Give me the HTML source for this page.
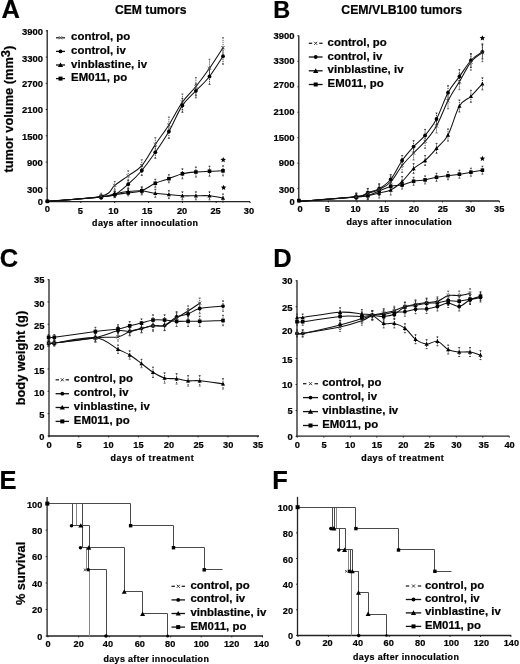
<!DOCTYPE html>
<html><head><meta charset="utf-8"><style>
html,body{margin:0;padding:0;background:#fff;width:520px;height:664px;overflow:hidden}
text{font-family:"Liberation Sans", sans-serif;stroke:#000;stroke-width:0.22px;paint-order:stroke}
</style></head><body>
<svg width="520" height="664" viewBox="0 0 520 664" style="display:block;filter:blur(0.35px)">
<rect width="520" height="664" fill="#fff"/>
<g font-family='"Liberation Sans", sans-serif'>
<text x="1.4" y="18.0" font-size="25.5" font-weight="bold" fill="#000" >A</text>
<text x="115.0" y="13.5" font-size="12.2" textLength="71.5" lengthAdjust="spacingAndGlyphs" font-weight="bold" fill="#000" >CEM tumors</text>
<line x1="47.2" y1="30.0" x2="47.2" y2="202.2" stroke="#222" stroke-width="1.3" />
<line x1="46.6" y1="201.6" x2="250.0" y2="201.6" stroke="#222" stroke-width="1.3" />
<text x="42.9" y="34.6" font-size="9.9" text-anchor="end" textLength="21.0" lengthAdjust="spacingAndGlyphs" font-weight="bold" fill="#000" >3900</text>
<line x1="45.8" y1="30.9" x2="47.2" y2="30.9" stroke="#222" stroke-width="1.0" />
<text x="42.9" y="61.5" font-size="9.9" text-anchor="end" textLength="21.0" lengthAdjust="spacingAndGlyphs" font-weight="bold" fill="#000" >3300</text>
<line x1="45.8" y1="57.1" x2="47.2" y2="57.1" stroke="#222" stroke-width="1.0" />
<text x="42.9" y="86.6" font-size="9.9" text-anchor="end" textLength="21.0" lengthAdjust="spacingAndGlyphs" font-weight="bold" fill="#000" >2700</text>
<line x1="45.8" y1="83.3" x2="47.2" y2="83.3" stroke="#222" stroke-width="1.0" />
<text x="42.9" y="112.5" font-size="9.9" text-anchor="end" textLength="21.0" lengthAdjust="spacingAndGlyphs" font-weight="bold" fill="#000" >2100</text>
<line x1="45.8" y1="109.5" x2="47.2" y2="109.5" stroke="#222" stroke-width="1.0" />
<text x="42.9" y="140.2" font-size="9.9" text-anchor="end" textLength="21.0" lengthAdjust="spacingAndGlyphs" font-weight="bold" fill="#000" >1500</text>
<line x1="45.8" y1="135.8" x2="47.2" y2="135.8" stroke="#222" stroke-width="1.0" />
<text x="42.9" y="165.7" font-size="9.9" text-anchor="end" textLength="15.8" lengthAdjust="spacingAndGlyphs" font-weight="bold" fill="#000" >900</text>
<line x1="45.8" y1="162.0" x2="47.2" y2="162.0" stroke="#222" stroke-width="1.0" />
<text x="42.9" y="192.7" font-size="9.9" text-anchor="end" textLength="15.8" lengthAdjust="spacingAndGlyphs" font-weight="bold" fill="#000" >300</text>
<line x1="45.8" y1="188.2" x2="47.2" y2="188.2" stroke="#222" stroke-width="1.0" />
<text x="42.9" y="204.5" font-size="9.9" text-anchor="end" textLength="5.2" lengthAdjust="spacingAndGlyphs" font-weight="bold" fill="#000" >0</text>
<line x1="45.8" y1="201.3" x2="47.2" y2="201.3" stroke="#222" stroke-width="1.0" />
<text x="47.4" y="212.1" font-size="9.9" text-anchor="middle" textLength="5.2" lengthAdjust="spacingAndGlyphs" font-weight="bold" fill="#000" >0</text>
<line x1="47.0" y1="201.6" x2="47.0" y2="203.0" stroke="#222" stroke-width="1.0" />
<text x="80.4" y="214.2" font-size="9.9" text-anchor="middle" textLength="5.2" lengthAdjust="spacingAndGlyphs" font-weight="bold" fill="#000" >5</text>
<line x1="80.8" y1="201.6" x2="80.8" y2="203.0" stroke="#222" stroke-width="1.0" />
<text x="113.5" y="214.2" font-size="9.9" text-anchor="middle" textLength="10.3" lengthAdjust="spacingAndGlyphs" font-weight="bold" fill="#000" >10</text>
<line x1="114.7" y1="201.6" x2="114.7" y2="203.0" stroke="#222" stroke-width="1.0" />
<text x="147.2" y="214.2" font-size="9.9" text-anchor="middle" textLength="10.3" lengthAdjust="spacingAndGlyphs" font-weight="bold" fill="#000" >15</text>
<line x1="148.6" y1="201.6" x2="148.6" y2="203.0" stroke="#222" stroke-width="1.0" />
<text x="182.1" y="214.2" font-size="9.9" text-anchor="middle" textLength="10.3" lengthAdjust="spacingAndGlyphs" font-weight="bold" fill="#000" >20</text>
<line x1="182.4" y1="201.6" x2="182.4" y2="203.0" stroke="#222" stroke-width="1.0" />
<text x="215.6" y="214.2" font-size="9.9" text-anchor="middle" textLength="10.3" lengthAdjust="spacingAndGlyphs" font-weight="bold" fill="#000" >25</text>
<line x1="216.2" y1="201.6" x2="216.2" y2="203.0" stroke="#222" stroke-width="1.0" />
<text x="249.0" y="214.2" font-size="9.9" text-anchor="middle" textLength="10.3" lengthAdjust="spacingAndGlyphs" font-weight="bold" fill="#000" >30</text>
<line x1="250.1" y1="201.6" x2="250.1" y2="203.0" stroke="#222" stroke-width="1.0" />
<text x="92.1" y="225.6" font-size="8.9" textLength="105.8" lengthAdjust="spacing" font-weight="bold" fill="#000" >days after innoculation</text>
<text transform="translate(13.1,172.6) rotate(-90)" font-size="12" font-weight="bold" textLength="126.8" lengthAdjust="spacingAndGlyphs">tumor volume (mm<tspan dy="-3.4">3</tspan><tspan dy="3.4">)</tspan></text>
<line x1="56.0" y1="37.8" x2="59.4" y2="37.8" stroke="#222" stroke-width="1.3" />
<line x1="61.6" y1="37.8" x2="65.0" y2="37.8" stroke="#222" stroke-width="1.3" />
<path d="M59.0,36.3L62.0,39.3M62.0,36.3L59.0,39.3" stroke="#333" stroke-width="1.0"/>
<text x="71.1" y="40.3" font-size="11.4" textLength="59.2" lengthAdjust="spacing" font-weight="bold" fill="#000" >control, po</text>
<line x1="56.0" y1="51.4" x2="65.0" y2="51.4" stroke="#111" stroke-width="1.3" />
<circle cx="60.5" cy="51.4" r="1.9" fill="#000"/>
<text x="71.1" y="53.9" font-size="11.4" textLength="54.8" lengthAdjust="spacing" font-weight="bold" fill="#000" >control, iv</text>
<line x1="56.0" y1="65.0" x2="65.0" y2="65.0" stroke="#111" stroke-width="1.3" />
<polygon points="60.5,62.4 63.1,67.1 57.9,67.1" fill="#000"/>
<text x="71.1" y="67.5" font-size="11.4" textLength="76.0" lengthAdjust="spacing" font-weight="bold" fill="#000" >vinblastine, iv</text>
<line x1="56.0" y1="78.6" x2="65.0" y2="78.6" stroke="#111" stroke-width="1.3" />
<rect x="58.5" y="76.6" width="4.0" height="4.0" fill="#000"/>
<text x="71.1" y="81.1" font-size="11.4" textLength="56.0" lengthAdjust="spacing" font-weight="bold" fill="#000" >EM011, po</text>
<line x1="101.2" y1="193.2" x2="101.2" y2="199.2" stroke="#555" stroke-width="1.0"  stroke-dasharray="1.2,0.9"/>
<line x1="100.2" y1="193.2" x2="102.2" y2="193.2" stroke="#555" stroke-width="0.8" />
<line x1="100.2" y1="199.2" x2="102.2" y2="199.2" stroke="#555" stroke-width="0.8" />
<line x1="114.7" y1="181.4" x2="114.7" y2="189.4" stroke="#555" stroke-width="1.0"  stroke-dasharray="1.2,0.9"/>
<line x1="113.7" y1="181.4" x2="115.7" y2="181.4" stroke="#555" stroke-width="0.8" />
<line x1="113.7" y1="189.4" x2="115.7" y2="189.4" stroke="#555" stroke-width="0.8" />
<line x1="128.2" y1="170.8" x2="128.2" y2="180.8" stroke="#555" stroke-width="1.0"  stroke-dasharray="1.2,0.9"/>
<line x1="127.2" y1="170.8" x2="129.2" y2="170.8" stroke="#555" stroke-width="0.8" />
<line x1="127.2" y1="180.8" x2="129.2" y2="180.8" stroke="#555" stroke-width="0.8" />
<line x1="141.8" y1="159.7" x2="141.8" y2="171.7" stroke="#555" stroke-width="1.0"  stroke-dasharray="1.2,0.9"/>
<line x1="140.8" y1="159.7" x2="142.8" y2="159.7" stroke="#555" stroke-width="0.8" />
<line x1="140.8" y1="171.7" x2="142.8" y2="171.7" stroke="#555" stroke-width="0.8" />
<line x1="155.3" y1="137.6" x2="155.3" y2="151.6" stroke="#555" stroke-width="1.0"  stroke-dasharray="1.2,0.9"/>
<line x1="154.3" y1="137.6" x2="156.3" y2="137.6" stroke="#555" stroke-width="0.8" />
<line x1="154.3" y1="151.6" x2="156.3" y2="151.6" stroke="#555" stroke-width="0.8" />
<line x1="168.9" y1="117.0" x2="168.9" y2="133.0" stroke="#555" stroke-width="1.0"  stroke-dasharray="1.2,0.9"/>
<line x1="167.9" y1="117.0" x2="169.9" y2="117.0" stroke="#555" stroke-width="0.8" />
<line x1="167.9" y1="133.0" x2="169.9" y2="133.0" stroke="#555" stroke-width="0.8" />
<line x1="182.4" y1="94.0" x2="182.4" y2="110.0" stroke="#555" stroke-width="1.0"  stroke-dasharray="1.2,0.9"/>
<line x1="181.4" y1="94.0" x2="183.4" y2="94.0" stroke="#555" stroke-width="0.8" />
<line x1="181.4" y1="110.0" x2="183.4" y2="110.0" stroke="#555" stroke-width="0.8" />
<line x1="195.9" y1="77.5" x2="195.9" y2="95.5" stroke="#555" stroke-width="1.0"  stroke-dasharray="1.2,0.9"/>
<line x1="194.9" y1="77.5" x2="196.9" y2="77.5" stroke="#555" stroke-width="0.8" />
<line x1="194.9" y1="95.5" x2="196.9" y2="95.5" stroke="#555" stroke-width="0.8" />
<line x1="209.5" y1="59.3" x2="209.5" y2="77.3" stroke="#555" stroke-width="1.0"  stroke-dasharray="1.2,0.9"/>
<line x1="208.5" y1="59.3" x2="210.5" y2="59.3" stroke="#555" stroke-width="0.8" />
<line x1="208.5" y1="77.3" x2="210.5" y2="77.3" stroke="#555" stroke-width="0.8" />
<line x1="223.0" y1="37.7" x2="223.0" y2="57.7" stroke="#555" stroke-width="1.0"  stroke-dasharray="1.2,0.9"/>
<line x1="222.0" y1="37.7" x2="224.0" y2="37.7" stroke="#555" stroke-width="0.8" />
<line x1="222.0" y1="57.7" x2="224.0" y2="57.7" stroke="#555" stroke-width="0.8" />
<line x1="101.2" y1="194.9" x2="101.2" y2="198.9" stroke="#333" stroke-width="1.0"  stroke-dasharray="1.2,0.9"/>
<line x1="100.2" y1="194.9" x2="102.2" y2="194.9" stroke="#333" stroke-width="0.8" />
<line x1="100.2" y1="198.9" x2="102.2" y2="198.9" stroke="#333" stroke-width="0.8" />
<line x1="114.7" y1="191.6" x2="114.7" y2="197.6" stroke="#333" stroke-width="1.0"  stroke-dasharray="1.2,0.9"/>
<line x1="113.7" y1="191.6" x2="115.7" y2="191.6" stroke="#333" stroke-width="0.8" />
<line x1="113.7" y1="197.6" x2="115.7" y2="197.6" stroke="#333" stroke-width="0.8" />
<line x1="128.2" y1="180.2" x2="128.2" y2="188.2" stroke="#333" stroke-width="1.0"  stroke-dasharray="1.2,0.9"/>
<line x1="127.2" y1="180.2" x2="129.2" y2="180.2" stroke="#333" stroke-width="0.8" />
<line x1="127.2" y1="188.2" x2="129.2" y2="188.2" stroke="#333" stroke-width="0.8" />
<line x1="141.8" y1="165.5" x2="141.8" y2="175.5" stroke="#333" stroke-width="1.0"  stroke-dasharray="1.2,0.9"/>
<line x1="140.8" y1="165.5" x2="142.8" y2="165.5" stroke="#333" stroke-width="0.8" />
<line x1="140.8" y1="175.5" x2="142.8" y2="175.5" stroke="#333" stroke-width="0.8" />
<line x1="155.3" y1="146.3" x2="155.3" y2="158.3" stroke="#333" stroke-width="1.0"  stroke-dasharray="1.2,0.9"/>
<line x1="154.3" y1="146.3" x2="156.3" y2="146.3" stroke="#333" stroke-width="0.8" />
<line x1="154.3" y1="158.3" x2="156.3" y2="158.3" stroke="#333" stroke-width="0.8" />
<line x1="168.9" y1="124.4" x2="168.9" y2="138.4" stroke="#333" stroke-width="1.0"  stroke-dasharray="1.2,0.9"/>
<line x1="167.9" y1="124.4" x2="169.9" y2="124.4" stroke="#333" stroke-width="0.8" />
<line x1="167.9" y1="138.4" x2="169.9" y2="138.4" stroke="#333" stroke-width="0.8" />
<line x1="182.4" y1="98.4" x2="182.4" y2="112.4" stroke="#333" stroke-width="1.0"  stroke-dasharray="1.2,0.9"/>
<line x1="181.4" y1="98.4" x2="183.4" y2="98.4" stroke="#333" stroke-width="0.8" />
<line x1="181.4" y1="112.4" x2="183.4" y2="112.4" stroke="#333" stroke-width="0.8" />
<line x1="195.9" y1="83.8" x2="195.9" y2="97.8" stroke="#333" stroke-width="1.0"  stroke-dasharray="1.2,0.9"/>
<line x1="194.9" y1="83.8" x2="196.9" y2="83.8" stroke="#333" stroke-width="0.8" />
<line x1="194.9" y1="97.8" x2="196.9" y2="97.8" stroke="#333" stroke-width="0.8" />
<line x1="209.5" y1="68.5" x2="209.5" y2="84.5" stroke="#333" stroke-width="1.0"  stroke-dasharray="1.2,0.9"/>
<line x1="208.5" y1="68.5" x2="210.5" y2="68.5" stroke="#333" stroke-width="0.8" />
<line x1="208.5" y1="84.5" x2="210.5" y2="84.5" stroke="#333" stroke-width="0.8" />
<line x1="223.0" y1="48.2" x2="223.0" y2="64.2" stroke="#333" stroke-width="1.0"  stroke-dasharray="1.2,0.9"/>
<line x1="222.0" y1="48.2" x2="224.0" y2="48.2" stroke="#333" stroke-width="0.8" />
<line x1="222.0" y1="64.2" x2="224.0" y2="64.2" stroke="#333" stroke-width="0.8" />
<line x1="101.2" y1="194.9" x2="101.2" y2="198.9" stroke="#333" stroke-width="1.0"  stroke-dasharray="1.2,0.9"/>
<line x1="100.2" y1="194.9" x2="102.2" y2="194.9" stroke="#333" stroke-width="0.8" />
<line x1="100.2" y1="198.9" x2="102.2" y2="198.9" stroke="#333" stroke-width="0.8" />
<line x1="114.7" y1="191.6" x2="114.7" y2="197.6" stroke="#333" stroke-width="1.0"  stroke-dasharray="1.2,0.9"/>
<line x1="113.7" y1="191.6" x2="115.7" y2="191.6" stroke="#333" stroke-width="0.8" />
<line x1="113.7" y1="197.6" x2="115.7" y2="197.6" stroke="#333" stroke-width="0.8" />
<line x1="128.2" y1="189.8" x2="128.2" y2="195.8" stroke="#333" stroke-width="1.0"  stroke-dasharray="1.2,0.9"/>
<line x1="127.2" y1="189.8" x2="129.2" y2="189.8" stroke="#333" stroke-width="0.8" />
<line x1="127.2" y1="195.8" x2="129.2" y2="195.8" stroke="#333" stroke-width="0.8" />
<line x1="141.8" y1="186.8" x2="141.8" y2="194.8" stroke="#333" stroke-width="1.0"  stroke-dasharray="1.2,0.9"/>
<line x1="140.8" y1="186.8" x2="142.8" y2="186.8" stroke="#333" stroke-width="0.8" />
<line x1="140.8" y1="194.8" x2="142.8" y2="194.8" stroke="#333" stroke-width="0.8" />
<line x1="155.3" y1="179.3" x2="155.3" y2="187.3" stroke="#333" stroke-width="1.0"  stroke-dasharray="1.2,0.9"/>
<line x1="154.3" y1="179.3" x2="156.3" y2="179.3" stroke="#333" stroke-width="0.8" />
<line x1="154.3" y1="187.3" x2="156.3" y2="187.3" stroke="#333" stroke-width="0.8" />
<line x1="168.9" y1="174.7" x2="168.9" y2="182.7" stroke="#333" stroke-width="1.0"  stroke-dasharray="1.2,0.9"/>
<line x1="167.9" y1="174.7" x2="169.9" y2="174.7" stroke="#333" stroke-width="0.8" />
<line x1="167.9" y1="182.7" x2="169.9" y2="182.7" stroke="#333" stroke-width="0.8" />
<line x1="182.4" y1="168.8" x2="182.4" y2="178.8" stroke="#333" stroke-width="1.0"  stroke-dasharray="1.2,0.9"/>
<line x1="181.4" y1="168.8" x2="183.4" y2="168.8" stroke="#333" stroke-width="0.8" />
<line x1="181.4" y1="178.8" x2="183.4" y2="178.8" stroke="#333" stroke-width="0.8" />
<line x1="195.9" y1="167.0" x2="195.9" y2="177.0" stroke="#333" stroke-width="1.0"  stroke-dasharray="1.2,0.9"/>
<line x1="194.9" y1="167.0" x2="196.9" y2="167.0" stroke="#333" stroke-width="0.8" />
<line x1="194.9" y1="177.0" x2="196.9" y2="177.0" stroke="#333" stroke-width="0.8" />
<line x1="209.5" y1="166.2" x2="209.5" y2="176.2" stroke="#333" stroke-width="1.0"  stroke-dasharray="1.2,0.9"/>
<line x1="208.5" y1="166.2" x2="210.5" y2="166.2" stroke="#333" stroke-width="0.8" />
<line x1="208.5" y1="176.2" x2="210.5" y2="176.2" stroke="#333" stroke-width="0.8" />
<line x1="223.0" y1="165.8" x2="223.0" y2="175.8" stroke="#333" stroke-width="1.0"  stroke-dasharray="1.2,0.9"/>
<line x1="222.0" y1="165.8" x2="224.0" y2="165.8" stroke="#333" stroke-width="0.8" />
<line x1="222.0" y1="175.8" x2="224.0" y2="175.8" stroke="#333" stroke-width="0.8" />
<line x1="101.2" y1="194.9" x2="101.2" y2="198.9" stroke="#333" stroke-width="1.0"  stroke-dasharray="1.2,0.9"/>
<line x1="100.2" y1="194.9" x2="102.2" y2="194.9" stroke="#333" stroke-width="0.8" />
<line x1="100.2" y1="198.9" x2="102.2" y2="198.9" stroke="#333" stroke-width="0.8" />
<line x1="114.7" y1="190.8" x2="114.7" y2="196.8" stroke="#333" stroke-width="1.0"  stroke-dasharray="1.2,0.9"/>
<line x1="113.7" y1="190.8" x2="115.7" y2="190.8" stroke="#333" stroke-width="0.8" />
<line x1="113.7" y1="196.8" x2="115.7" y2="196.8" stroke="#333" stroke-width="0.8" />
<line x1="128.2" y1="188.5" x2="128.2" y2="194.5" stroke="#333" stroke-width="1.0"  stroke-dasharray="1.2,0.9"/>
<line x1="127.2" y1="188.5" x2="129.2" y2="188.5" stroke="#333" stroke-width="0.8" />
<line x1="127.2" y1="194.5" x2="129.2" y2="194.5" stroke="#333" stroke-width="0.8" />
<line x1="141.8" y1="187.8" x2="141.8" y2="193.8" stroke="#333" stroke-width="1.0"  stroke-dasharray="1.2,0.9"/>
<line x1="140.8" y1="187.8" x2="142.8" y2="187.8" stroke="#333" stroke-width="0.8" />
<line x1="140.8" y1="193.8" x2="142.8" y2="193.8" stroke="#333" stroke-width="0.8" />
<line x1="155.3" y1="189.3" x2="155.3" y2="197.3" stroke="#333" stroke-width="1.0"  stroke-dasharray="1.2,0.9"/>
<line x1="154.3" y1="189.3" x2="156.3" y2="189.3" stroke="#333" stroke-width="0.8" />
<line x1="154.3" y1="197.3" x2="156.3" y2="197.3" stroke="#333" stroke-width="0.8" />
<line x1="168.9" y1="190.6" x2="168.9" y2="198.6" stroke="#333" stroke-width="1.0"  stroke-dasharray="1.2,0.9"/>
<line x1="167.9" y1="190.6" x2="169.9" y2="190.6" stroke="#333" stroke-width="0.8" />
<line x1="167.9" y1="198.6" x2="169.9" y2="198.6" stroke="#333" stroke-width="0.8" />
<line x1="182.4" y1="191.8" x2="182.4" y2="199.8" stroke="#333" stroke-width="1.0"  stroke-dasharray="1.2,0.9"/>
<line x1="181.4" y1="191.8" x2="183.4" y2="191.8" stroke="#333" stroke-width="0.8" />
<line x1="181.4" y1="199.8" x2="183.4" y2="199.8" stroke="#333" stroke-width="0.8" />
<line x1="195.9" y1="191.8" x2="195.9" y2="199.8" stroke="#333" stroke-width="1.0"  stroke-dasharray="1.2,0.9"/>
<line x1="194.9" y1="191.8" x2="196.9" y2="191.8" stroke="#333" stroke-width="0.8" />
<line x1="194.9" y1="199.8" x2="196.9" y2="199.8" stroke="#333" stroke-width="0.8" />
<line x1="209.5" y1="191.8" x2="209.5" y2="199.8" stroke="#333" stroke-width="1.0"  stroke-dasharray="1.2,0.9"/>
<line x1="208.5" y1="191.8" x2="210.5" y2="191.8" stroke="#333" stroke-width="0.8" />
<line x1="208.5" y1="199.8" x2="210.5" y2="199.8" stroke="#333" stroke-width="0.8" />
<line x1="223.0" y1="194.0" x2="223.0" y2="202.0" stroke="#333" stroke-width="1.0"  stroke-dasharray="1.2,0.9"/>
<line x1="222.0" y1="194.0" x2="224.0" y2="194.0" stroke="#333" stroke-width="0.8" />
<line x1="222.0" y1="202.0" x2="224.0" y2="202.0" stroke="#333" stroke-width="0.8" />
<path d="M47.0,201.3C56.0,200.5 89.9,198.8 101.2,196.2C112.4,193.5 110.2,188.8 114.7,185.4C119.2,182.0 123.7,179.1 128.2,175.8C132.8,172.5 137.3,170.9 141.8,165.7C146.3,160.5 150.8,151.4 155.3,144.6C159.8,137.8 164.3,132.1 168.9,125.0C173.4,117.9 177.9,108.4 182.4,102.0C186.9,95.6 191.4,92.1 195.9,86.5C200.5,80.9 205.0,74.8 209.5,68.3C214.0,61.8 220.8,51.1 223.0,47.7" fill="none" stroke="#111" stroke-width="1.05"/>
<path d="M47.0,201.3C56.0,200.6 89.9,198.0 101.2,196.9C112.4,195.8 110.2,196.7 114.7,194.6C119.2,192.5 123.7,188.2 128.2,184.2C132.8,180.2 137.3,175.8 141.8,170.5C146.3,165.2 150.8,158.8 155.3,152.3C159.8,145.8 164.3,139.2 168.9,131.4C173.4,123.6 177.9,112.2 182.4,105.4C186.9,98.6 191.4,95.6 195.9,90.8C200.5,86.0 205.0,82.3 209.5,76.5C214.0,70.7 220.8,59.6 223.0,56.2" fill="none" stroke="#111" stroke-width="1.05"/>
<path d="M47.0,201.3C56.0,200.6 89.9,198.0 101.2,196.9C112.4,195.8 110.2,195.3 114.7,194.6C119.2,193.9 123.7,193.4 128.2,192.8C132.8,192.2 137.3,192.4 141.8,190.8C146.3,189.2 150.8,185.3 155.3,183.3C159.8,181.3 164.3,180.3 168.9,178.7C173.4,177.1 177.9,174.9 182.4,173.8C186.9,172.7 191.4,172.4 195.9,172.0C200.5,171.6 205.0,171.4 209.5,171.2C214.0,171.0 220.8,170.9 223.0,170.8" fill="none" stroke="#111" stroke-width="1.05"/>
<path d="M47.0,201.3C56.0,200.6 89.9,198.2 101.2,196.9C112.4,195.7 110.2,194.7 114.7,193.8C119.2,192.9 123.7,192.0 128.2,191.5C132.8,191.0 137.3,190.5 141.8,190.8C146.3,191.1 150.8,192.7 155.3,193.3C159.8,193.9 164.3,194.2 168.9,194.6C173.4,195.0 177.9,195.6 182.4,195.8C186.9,196.0 191.4,195.8 195.9,195.8C200.5,195.8 205.0,195.4 209.5,195.8C214.0,196.2 220.8,197.6 223.0,198.0" fill="none" stroke="#111" stroke-width="1.05"/>
<circle cx="101.2" cy="196.9" r="1.9" fill="#000"/>
<circle cx="114.7" cy="194.6" r="1.9" fill="#000"/>
<circle cx="128.2" cy="184.2" r="1.9" fill="#000"/>
<circle cx="141.8" cy="170.5" r="1.9" fill="#000"/>
<circle cx="155.3" cy="152.3" r="1.9" fill="#000"/>
<circle cx="168.9" cy="131.4" r="1.9" fill="#000"/>
<circle cx="182.4" cy="105.4" r="1.9" fill="#000"/>
<circle cx="195.9" cy="90.8" r="1.9" fill="#000"/>
<circle cx="209.5" cy="76.5" r="1.9" fill="#000"/>
<circle cx="223.0" cy="56.2" r="1.9" fill="#000"/>
<rect x="99.4" y="195.1" width="3.6" height="3.6" fill="#000"/>
<rect x="112.9" y="192.8" width="3.6" height="3.6" fill="#000"/>
<rect x="126.4" y="191.0" width="3.6" height="3.6" fill="#000"/>
<rect x="140.0" y="189.0" width="3.6" height="3.6" fill="#000"/>
<rect x="153.5" y="181.5" width="3.6" height="3.6" fill="#000"/>
<rect x="167.1" y="176.9" width="3.6" height="3.6" fill="#000"/>
<rect x="180.6" y="172.0" width="3.6" height="3.6" fill="#000"/>
<rect x="194.1" y="170.2" width="3.6" height="3.6" fill="#000"/>
<rect x="207.7" y="169.4" width="3.6" height="3.6" fill="#000"/>
<rect x="221.2" y="169.0" width="3.6" height="3.6" fill="#000"/>
<polygon points="101.2,194.8 103.2,198.6 99.1,198.6" fill="#000"/>
<polygon points="114.7,191.7 116.8,195.5 112.6,195.5" fill="#000"/>
<polygon points="128.2,189.4 130.3,193.2 126.2,193.2" fill="#000"/>
<polygon points="141.8,188.7 143.9,192.5 139.7,192.5" fill="#000"/>
<polygon points="155.3,191.2 157.4,195.0 153.2,195.0" fill="#000"/>
<polygon points="168.9,192.5 170.9,196.3 166.8,196.3" fill="#000"/>
<polygon points="182.4,193.7 184.5,197.5 180.3,197.5" fill="#000"/>
<polygon points="195.9,193.7 198.0,197.5 193.9,197.5" fill="#000"/>
<polygon points="209.5,193.7 211.6,197.5 207.4,197.5" fill="#000"/>
<polygon points="223.0,195.9 225.1,199.7 220.9,199.7" fill="#000"/>
<path d="M99.6,194.6L102.8,197.8M102.8,194.6L99.6,197.8" stroke="#444" stroke-width="0.9"/>
<path d="M113.1,183.8L116.3,187.0M116.3,183.8L113.1,187.0" stroke="#444" stroke-width="0.9"/>
<path d="M126.6,174.2L129.8,177.4M129.8,174.2L126.6,177.4" stroke="#444" stroke-width="0.9"/>
<path d="M140.2,164.1L143.4,167.3M143.4,164.1L140.2,167.3" stroke="#444" stroke-width="0.9"/>
<path d="M153.7,143.0L156.9,146.2M156.9,143.0L153.7,146.2" stroke="#444" stroke-width="0.9"/>
<path d="M167.3,123.4L170.5,126.6M170.5,123.4L167.3,126.6" stroke="#444" stroke-width="0.9"/>
<path d="M180.8,100.4L184.0,103.6M184.0,100.4L180.8,103.6" stroke="#444" stroke-width="0.9"/>
<path d="M194.3,84.9L197.5,88.1M197.5,84.9L194.3,88.1" stroke="#444" stroke-width="0.9"/>
<path d="M207.9,66.7L211.1,69.9M211.1,66.7L207.9,69.9" stroke="#444" stroke-width="0.9"/>
<path d="M221.4,46.1L224.6,49.3M224.6,46.1L221.4,49.3" stroke="#444" stroke-width="0.9"/>
<polygon points="223.2,157.0 224.0,158.8 226.0,159.0 224.4,160.3 224.9,162.2 223.2,161.2 221.5,162.2 222.0,160.3 220.4,159.0 222.4,158.8" fill="#000"/>
<polygon points="223.6,184.7 224.4,186.5 226.4,186.7 224.8,188.0 225.3,189.9 223.6,188.9 221.9,189.9 222.4,188.0 220.8,186.7 222.8,186.5" fill="#000"/>
<rect x="45.6" y="199.5" width="3.6" height="3.6" fill="#000"/>
<circle cx="47.4" cy="201.3" r="1.9" fill="#000"/>
<text x="273.2" y="17.7" font-size="23.5" font-weight="bold" fill="#000" >B</text>
<text x="341.3" y="13.5" font-size="12.2" textLength="120.7" lengthAdjust="spacingAndGlyphs" font-weight="bold" fill="#000" >CEM/VLB100 tumors</text>
<line x1="298.8" y1="35.5" x2="298.8" y2="201.6" stroke="#222" stroke-width="1.3" />
<line x1="298.2" y1="201.0" x2="499.5" y2="201.0" stroke="#222" stroke-width="1.3" />
<text x="294.6" y="39.3" font-size="9.9" text-anchor="end" textLength="21.0" lengthAdjust="spacingAndGlyphs" font-weight="bold" fill="#000" >3900</text>
<line x1="297.4" y1="35.8" x2="298.8" y2="35.8" stroke="#222" stroke-width="1.0" />
<text x="294.6" y="64.1" font-size="9.9" text-anchor="end" textLength="21.0" lengthAdjust="spacingAndGlyphs" font-weight="bold" fill="#000" >3300</text>
<line x1="297.4" y1="61.3" x2="298.8" y2="61.3" stroke="#222" stroke-width="1.0" />
<text x="294.6" y="87.5" font-size="9.9" text-anchor="end" textLength="21.0" lengthAdjust="spacingAndGlyphs" font-weight="bold" fill="#000" >2700</text>
<line x1="297.4" y1="86.8" x2="298.8" y2="86.8" stroke="#222" stroke-width="1.0" />
<text x="294.6" y="115.4" font-size="9.9" text-anchor="end" textLength="21.0" lengthAdjust="spacingAndGlyphs" font-weight="bold" fill="#000" >2100</text>
<line x1="297.4" y1="112.2" x2="298.8" y2="112.2" stroke="#222" stroke-width="1.0" />
<text x="294.6" y="140.6" font-size="9.9" text-anchor="end" textLength="21.0" lengthAdjust="spacingAndGlyphs" font-weight="bold" fill="#000" >1500</text>
<line x1="297.4" y1="137.7" x2="298.8" y2="137.7" stroke="#222" stroke-width="1.0" />
<text x="294.6" y="166.4" font-size="9.9" text-anchor="end" textLength="15.8" lengthAdjust="spacingAndGlyphs" font-weight="bold" fill="#000" >900</text>
<line x1="297.4" y1="163.2" x2="298.8" y2="163.2" stroke="#222" stroke-width="1.0" />
<text x="294.6" y="193.3" font-size="9.9" text-anchor="end" textLength="15.8" lengthAdjust="spacingAndGlyphs" font-weight="bold" fill="#000" >300</text>
<line x1="297.4" y1="188.7" x2="298.8" y2="188.7" stroke="#222" stroke-width="1.0" />
<text x="294.6" y="205.2" font-size="9.9" text-anchor="end" textLength="5.2" lengthAdjust="spacingAndGlyphs" font-weight="bold" fill="#000" >0</text>
<line x1="297.4" y1="201.4" x2="298.8" y2="201.4" stroke="#222" stroke-width="1.0" />
<text x="300.1" y="212.0" font-size="9.9" text-anchor="middle" textLength="5.2" lengthAdjust="spacingAndGlyphs" font-weight="bold" fill="#000" >0</text>
<line x1="300.0" y1="201.0" x2="300.0" y2="202.4" stroke="#222" stroke-width="1.0" />
<text x="327.3" y="212.0" font-size="9.9" text-anchor="middle" textLength="5.2" lengthAdjust="spacingAndGlyphs" font-weight="bold" fill="#000" >5</text>
<line x1="328.5" y1="201.0" x2="328.5" y2="202.4" stroke="#222" stroke-width="1.0" />
<text x="355.6" y="212.0" font-size="9.9" text-anchor="middle" textLength="10.3" lengthAdjust="spacingAndGlyphs" font-weight="bold" fill="#000" >10</text>
<line x1="357.0" y1="201.0" x2="357.0" y2="202.4" stroke="#222" stroke-width="1.0" />
<text x="384.0" y="212.0" font-size="9.9" text-anchor="middle" textLength="10.3" lengthAdjust="spacingAndGlyphs" font-weight="bold" fill="#000" >15</text>
<line x1="385.5" y1="201.0" x2="385.5" y2="202.4" stroke="#222" stroke-width="1.0" />
<text x="414.0" y="212.0" font-size="9.9" text-anchor="middle" textLength="10.3" lengthAdjust="spacingAndGlyphs" font-weight="bold" fill="#000" >20</text>
<line x1="414.0" y1="201.0" x2="414.0" y2="202.4" stroke="#222" stroke-width="1.0" />
<text x="442.8" y="212.0" font-size="9.9" text-anchor="middle" textLength="10.3" lengthAdjust="spacingAndGlyphs" font-weight="bold" fill="#000" >25</text>
<line x1="442.5" y1="201.0" x2="442.5" y2="202.4" stroke="#222" stroke-width="1.0" />
<text x="470.3" y="212.0" font-size="9.9" text-anchor="middle" textLength="10.3" lengthAdjust="spacingAndGlyphs" font-weight="bold" fill="#000" >30</text>
<line x1="471.0" y1="201.0" x2="471.0" y2="202.4" stroke="#222" stroke-width="1.0" />
<text x="499.2" y="212.0" font-size="9.9" text-anchor="middle" textLength="10.3" lengthAdjust="spacingAndGlyphs" font-weight="bold" fill="#000" >35</text>
<line x1="499.5" y1="201.0" x2="499.5" y2="202.4" stroke="#222" stroke-width="1.0" />
<text x="346.5" y="224.7" font-size="8.9" textLength="105.2" lengthAdjust="spacing" font-weight="bold" fill="#000" >days after innoculation</text>
<line x1="308.8" y1="43.3" x2="312.2" y2="43.3" stroke="#222" stroke-width="1.3" />
<line x1="319.2" y1="43.3" x2="322.6" y2="43.3" stroke="#222" stroke-width="1.3" />
<path d="M314.2,41.8L317.2,44.8M317.2,41.8L314.2,44.8" stroke="#333" stroke-width="1.0"/>
<text x="327.6" y="45.8" font-size="11.4" textLength="59.2" lengthAdjust="spacing" font-weight="bold" fill="#000" >control, po</text>
<line x1="308.8" y1="57.0" x2="322.6" y2="57.0" stroke="#111" stroke-width="1.3" />
<circle cx="315.7" cy="57.0" r="1.9" fill="#000"/>
<text x="327.6" y="59.5" font-size="11.4" textLength="54.8" lengthAdjust="spacing" font-weight="bold" fill="#000" >control, iv</text>
<line x1="308.8" y1="70.8" x2="322.6" y2="70.8" stroke="#111" stroke-width="1.3" />
<polygon points="315.7,68.2 318.3,72.9 313.1,72.9" fill="#000"/>
<text x="327.6" y="73.3" font-size="11.4" textLength="76.0" lengthAdjust="spacing" font-weight="bold" fill="#000" >vinblastine, iv</text>
<line x1="308.8" y1="84.5" x2="322.6" y2="84.5" stroke="#111" stroke-width="1.3" />
<rect x="313.7" y="82.5" width="4.0" height="4.0" fill="#000"/>
<text x="327.6" y="87.0" font-size="11.4" textLength="56.0" lengthAdjust="spacing" font-weight="bold" fill="#000" >EM011, po</text>
<line x1="356.3" y1="192.8" x2="356.3" y2="200.8" stroke="#555" stroke-width="1.0"  stroke-dasharray="1.2,0.9"/>
<line x1="355.3" y1="192.8" x2="357.3" y2="192.8" stroke="#555" stroke-width="0.8" />
<line x1="355.3" y1="200.8" x2="357.3" y2="200.8" stroke="#555" stroke-width="0.8" />
<line x1="367.8" y1="188.4" x2="367.8" y2="198.4" stroke="#555" stroke-width="1.0"  stroke-dasharray="1.2,0.9"/>
<line x1="366.8" y1="188.4" x2="368.8" y2="188.4" stroke="#555" stroke-width="0.8" />
<line x1="366.8" y1="198.4" x2="368.8" y2="198.4" stroke="#555" stroke-width="0.8" />
<line x1="379.2" y1="183.5" x2="379.2" y2="195.5" stroke="#555" stroke-width="1.0"  stroke-dasharray="1.2,0.9"/>
<line x1="378.2" y1="183.5" x2="380.2" y2="183.5" stroke="#555" stroke-width="0.8" />
<line x1="378.2" y1="195.5" x2="380.2" y2="195.5" stroke="#555" stroke-width="0.8" />
<line x1="390.7" y1="176.0" x2="390.7" y2="188.0" stroke="#555" stroke-width="1.0"  stroke-dasharray="1.2,0.9"/>
<line x1="389.7" y1="176.0" x2="391.7" y2="176.0" stroke="#555" stroke-width="0.8" />
<line x1="389.7" y1="188.0" x2="391.7" y2="188.0" stroke="#555" stroke-width="0.8" />
<line x1="402.1" y1="158.5" x2="402.1" y2="172.5" stroke="#555" stroke-width="1.0"  stroke-dasharray="1.2,0.9"/>
<line x1="401.1" y1="158.5" x2="403.1" y2="158.5" stroke="#555" stroke-width="0.8" />
<line x1="401.1" y1="172.5" x2="403.1" y2="172.5" stroke="#555" stroke-width="0.8" />
<line x1="413.6" y1="146.0" x2="413.6" y2="160.0" stroke="#555" stroke-width="1.0"  stroke-dasharray="1.2,0.9"/>
<line x1="412.6" y1="146.0" x2="414.6" y2="146.0" stroke="#555" stroke-width="0.8" />
<line x1="412.6" y1="160.0" x2="414.6" y2="160.0" stroke="#555" stroke-width="0.8" />
<line x1="425.1" y1="134.4" x2="425.1" y2="148.4" stroke="#555" stroke-width="1.0"  stroke-dasharray="1.2,0.9"/>
<line x1="424.1" y1="134.4" x2="426.1" y2="134.4" stroke="#555" stroke-width="0.8" />
<line x1="424.1" y1="148.4" x2="426.1" y2="148.4" stroke="#555" stroke-width="0.8" />
<line x1="436.5" y1="118.9" x2="436.5" y2="132.9" stroke="#555" stroke-width="1.0"  stroke-dasharray="1.2,0.9"/>
<line x1="435.5" y1="118.9" x2="437.5" y2="118.9" stroke="#555" stroke-width="0.8" />
<line x1="435.5" y1="132.9" x2="437.5" y2="132.9" stroke="#555" stroke-width="0.8" />
<line x1="448.0" y1="92.8" x2="448.0" y2="108.8" stroke="#555" stroke-width="1.0"  stroke-dasharray="1.2,0.9"/>
<line x1="447.0" y1="92.8" x2="449.0" y2="92.8" stroke="#555" stroke-width="0.8" />
<line x1="447.0" y1="108.8" x2="449.0" y2="108.8" stroke="#555" stroke-width="0.8" />
<line x1="459.4" y1="73.7" x2="459.4" y2="89.7" stroke="#555" stroke-width="1.0"  stroke-dasharray="1.2,0.9"/>
<line x1="458.4" y1="73.7" x2="460.4" y2="73.7" stroke="#555" stroke-width="0.8" />
<line x1="458.4" y1="89.7" x2="460.4" y2="89.7" stroke="#555" stroke-width="0.8" />
<line x1="470.9" y1="54.2" x2="470.9" y2="70.2" stroke="#555" stroke-width="1.0"  stroke-dasharray="1.2,0.9"/>
<line x1="469.9" y1="54.2" x2="471.9" y2="54.2" stroke="#555" stroke-width="0.8" />
<line x1="469.9" y1="70.2" x2="471.9" y2="70.2" stroke="#555" stroke-width="0.8" />
<line x1="482.4" y1="43.7" x2="482.4" y2="61.7" stroke="#555" stroke-width="1.0"  stroke-dasharray="1.2,0.9"/>
<line x1="481.4" y1="43.7" x2="483.4" y2="43.7" stroke="#555" stroke-width="0.8" />
<line x1="481.4" y1="61.7" x2="483.4" y2="61.7" stroke="#555" stroke-width="0.8" />
<line x1="356.3" y1="193.6" x2="356.3" y2="199.6" stroke="#333" stroke-width="1.0"  stroke-dasharray="1.2,0.9"/>
<line x1="355.3" y1="193.6" x2="357.3" y2="193.6" stroke="#333" stroke-width="0.8" />
<line x1="355.3" y1="199.6" x2="357.3" y2="199.6" stroke="#333" stroke-width="0.8" />
<line x1="367.8" y1="188.6" x2="367.8" y2="196.6" stroke="#333" stroke-width="1.0"  stroke-dasharray="1.2,0.9"/>
<line x1="366.8" y1="188.6" x2="368.8" y2="188.6" stroke="#333" stroke-width="0.8" />
<line x1="366.8" y1="196.6" x2="368.8" y2="196.6" stroke="#333" stroke-width="0.8" />
<line x1="379.2" y1="184.6" x2="379.2" y2="192.6" stroke="#333" stroke-width="1.0"  stroke-dasharray="1.2,0.9"/>
<line x1="378.2" y1="184.6" x2="380.2" y2="184.6" stroke="#333" stroke-width="0.8" />
<line x1="378.2" y1="192.6" x2="380.2" y2="192.6" stroke="#333" stroke-width="0.8" />
<line x1="390.7" y1="174.5" x2="390.7" y2="184.5" stroke="#333" stroke-width="1.0"  stroke-dasharray="1.2,0.9"/>
<line x1="389.7" y1="174.5" x2="391.7" y2="174.5" stroke="#333" stroke-width="0.8" />
<line x1="389.7" y1="184.5" x2="391.7" y2="184.5" stroke="#333" stroke-width="0.8" />
<line x1="402.1" y1="155.5" x2="402.1" y2="165.5" stroke="#333" stroke-width="1.0"  stroke-dasharray="1.2,0.9"/>
<line x1="401.1" y1="155.5" x2="403.1" y2="155.5" stroke="#333" stroke-width="0.8" />
<line x1="401.1" y1="165.5" x2="403.1" y2="165.5" stroke="#333" stroke-width="0.8" />
<line x1="413.6" y1="140.6" x2="413.6" y2="152.6" stroke="#333" stroke-width="1.0"  stroke-dasharray="1.2,0.9"/>
<line x1="412.6" y1="140.6" x2="414.6" y2="140.6" stroke="#333" stroke-width="0.8" />
<line x1="412.6" y1="152.6" x2="414.6" y2="152.6" stroke="#333" stroke-width="0.8" />
<line x1="425.1" y1="129.4" x2="425.1" y2="141.4" stroke="#333" stroke-width="1.0"  stroke-dasharray="1.2,0.9"/>
<line x1="424.1" y1="129.4" x2="426.1" y2="129.4" stroke="#333" stroke-width="0.8" />
<line x1="424.1" y1="141.4" x2="426.1" y2="141.4" stroke="#333" stroke-width="0.8" />
<line x1="436.5" y1="113.0" x2="436.5" y2="125.0" stroke="#333" stroke-width="1.0"  stroke-dasharray="1.2,0.9"/>
<line x1="435.5" y1="113.0" x2="437.5" y2="113.0" stroke="#333" stroke-width="0.8" />
<line x1="435.5" y1="125.0" x2="437.5" y2="125.0" stroke="#333" stroke-width="0.8" />
<line x1="448.0" y1="85.7" x2="448.0" y2="99.7" stroke="#333" stroke-width="1.0"  stroke-dasharray="1.2,0.9"/>
<line x1="447.0" y1="85.7" x2="449.0" y2="85.7" stroke="#333" stroke-width="0.8" />
<line x1="447.0" y1="99.7" x2="449.0" y2="99.7" stroke="#333" stroke-width="0.8" />
<line x1="459.4" y1="69.6" x2="459.4" y2="83.6" stroke="#333" stroke-width="1.0"  stroke-dasharray="1.2,0.9"/>
<line x1="458.4" y1="69.6" x2="460.4" y2="69.6" stroke="#333" stroke-width="0.8" />
<line x1="458.4" y1="83.6" x2="460.4" y2="83.6" stroke="#333" stroke-width="0.8" />
<line x1="470.9" y1="53.5" x2="470.9" y2="67.5" stroke="#333" stroke-width="1.0"  stroke-dasharray="1.2,0.9"/>
<line x1="469.9" y1="53.5" x2="471.9" y2="53.5" stroke="#333" stroke-width="0.8" />
<line x1="469.9" y1="67.5" x2="471.9" y2="67.5" stroke="#333" stroke-width="0.8" />
<line x1="482.4" y1="44.8" x2="482.4" y2="58.8" stroke="#333" stroke-width="1.0"  stroke-dasharray="1.2,0.9"/>
<line x1="481.4" y1="44.8" x2="483.4" y2="44.8" stroke="#333" stroke-width="0.8" />
<line x1="481.4" y1="58.8" x2="483.4" y2="58.8" stroke="#333" stroke-width="0.8" />
<line x1="356.3" y1="194.0" x2="356.3" y2="200.0" stroke="#333" stroke-width="1.0"  stroke-dasharray="1.2,0.9"/>
<line x1="355.3" y1="194.0" x2="357.3" y2="194.0" stroke="#333" stroke-width="0.8" />
<line x1="355.3" y1="200.0" x2="357.3" y2="200.0" stroke="#333" stroke-width="0.8" />
<line x1="367.8" y1="191.6" x2="367.8" y2="199.6" stroke="#333" stroke-width="1.0"  stroke-dasharray="1.2,0.9"/>
<line x1="366.8" y1="191.6" x2="368.8" y2="191.6" stroke="#333" stroke-width="0.8" />
<line x1="366.8" y1="199.6" x2="368.8" y2="199.6" stroke="#333" stroke-width="0.8" />
<line x1="379.2" y1="187.0" x2="379.2" y2="195.0" stroke="#333" stroke-width="1.0"  stroke-dasharray="1.2,0.9"/>
<line x1="378.2" y1="187.0" x2="380.2" y2="187.0" stroke="#333" stroke-width="0.8" />
<line x1="378.2" y1="195.0" x2="380.2" y2="195.0" stroke="#333" stroke-width="0.8" />
<line x1="390.7" y1="182.4" x2="390.7" y2="190.4" stroke="#333" stroke-width="1.0"  stroke-dasharray="1.2,0.9"/>
<line x1="389.7" y1="182.4" x2="391.7" y2="182.4" stroke="#333" stroke-width="0.8" />
<line x1="389.7" y1="190.4" x2="391.7" y2="190.4" stroke="#333" stroke-width="0.8" />
<line x1="402.1" y1="181.0" x2="402.1" y2="189.0" stroke="#333" stroke-width="1.0"  stroke-dasharray="1.2,0.9"/>
<line x1="401.1" y1="181.0" x2="403.1" y2="181.0" stroke="#333" stroke-width="0.8" />
<line x1="401.1" y1="189.0" x2="403.1" y2="189.0" stroke="#333" stroke-width="0.8" />
<line x1="413.6" y1="177.3" x2="413.6" y2="185.3" stroke="#333" stroke-width="1.0"  stroke-dasharray="1.2,0.9"/>
<line x1="412.6" y1="177.3" x2="414.6" y2="177.3" stroke="#333" stroke-width="0.8" />
<line x1="412.6" y1="185.3" x2="414.6" y2="185.3" stroke="#333" stroke-width="0.8" />
<line x1="425.1" y1="175.9" x2="425.1" y2="183.9" stroke="#333" stroke-width="1.0"  stroke-dasharray="1.2,0.9"/>
<line x1="424.1" y1="175.9" x2="426.1" y2="175.9" stroke="#333" stroke-width="0.8" />
<line x1="424.1" y1="183.9" x2="426.1" y2="183.9" stroke="#333" stroke-width="0.8" />
<line x1="436.5" y1="173.3" x2="436.5" y2="181.3" stroke="#333" stroke-width="1.0"  stroke-dasharray="1.2,0.9"/>
<line x1="435.5" y1="173.3" x2="437.5" y2="173.3" stroke="#333" stroke-width="0.8" />
<line x1="435.5" y1="181.3" x2="437.5" y2="181.3" stroke="#333" stroke-width="0.8" />
<line x1="448.0" y1="171.7" x2="448.0" y2="179.7" stroke="#333" stroke-width="1.0"  stroke-dasharray="1.2,0.9"/>
<line x1="447.0" y1="171.7" x2="449.0" y2="171.7" stroke="#333" stroke-width="0.8" />
<line x1="447.0" y1="179.7" x2="449.0" y2="179.7" stroke="#333" stroke-width="0.8" />
<line x1="459.4" y1="170.2" x2="459.4" y2="178.2" stroke="#333" stroke-width="1.0"  stroke-dasharray="1.2,0.9"/>
<line x1="458.4" y1="170.2" x2="460.4" y2="170.2" stroke="#333" stroke-width="0.8" />
<line x1="458.4" y1="178.2" x2="460.4" y2="178.2" stroke="#333" stroke-width="0.8" />
<line x1="470.9" y1="168.2" x2="470.9" y2="176.2" stroke="#333" stroke-width="1.0"  stroke-dasharray="1.2,0.9"/>
<line x1="469.9" y1="168.2" x2="471.9" y2="168.2" stroke="#333" stroke-width="0.8" />
<line x1="469.9" y1="176.2" x2="471.9" y2="176.2" stroke="#333" stroke-width="0.8" />
<line x1="482.4" y1="166.2" x2="482.4" y2="174.2" stroke="#333" stroke-width="1.0"  stroke-dasharray="1.2,0.9"/>
<line x1="481.4" y1="166.2" x2="483.4" y2="166.2" stroke="#333" stroke-width="0.8" />
<line x1="481.4" y1="174.2" x2="483.4" y2="174.2" stroke="#333" stroke-width="0.8" />
<line x1="356.3" y1="194.0" x2="356.3" y2="200.0" stroke="#333" stroke-width="1.0"  stroke-dasharray="1.2,0.9"/>
<line x1="355.3" y1="194.0" x2="357.3" y2="194.0" stroke="#333" stroke-width="0.8" />
<line x1="355.3" y1="200.0" x2="357.3" y2="200.0" stroke="#333" stroke-width="0.8" />
<line x1="367.8" y1="191.6" x2="367.8" y2="199.6" stroke="#333" stroke-width="1.0"  stroke-dasharray="1.2,0.9"/>
<line x1="366.8" y1="191.6" x2="368.8" y2="191.6" stroke="#333" stroke-width="0.8" />
<line x1="366.8" y1="199.6" x2="368.8" y2="199.6" stroke="#333" stroke-width="0.8" />
<line x1="379.2" y1="188.0" x2="379.2" y2="198.0" stroke="#333" stroke-width="1.0"  stroke-dasharray="1.2,0.9"/>
<line x1="378.2" y1="188.0" x2="380.2" y2="188.0" stroke="#333" stroke-width="0.8" />
<line x1="378.2" y1="198.0" x2="380.2" y2="198.0" stroke="#333" stroke-width="0.8" />
<line x1="390.7" y1="185.0" x2="390.7" y2="195.0" stroke="#333" stroke-width="1.0"  stroke-dasharray="1.2,0.9"/>
<line x1="389.7" y1="185.0" x2="391.7" y2="185.0" stroke="#333" stroke-width="0.8" />
<line x1="389.7" y1="195.0" x2="391.7" y2="195.0" stroke="#333" stroke-width="0.8" />
<line x1="402.1" y1="176.5" x2="402.1" y2="186.5" stroke="#333" stroke-width="1.0"  stroke-dasharray="1.2,0.9"/>
<line x1="401.1" y1="176.5" x2="403.1" y2="176.5" stroke="#333" stroke-width="0.8" />
<line x1="401.1" y1="186.5" x2="403.1" y2="186.5" stroke="#333" stroke-width="0.8" />
<line x1="413.6" y1="163.6" x2="413.6" y2="173.6" stroke="#333" stroke-width="1.0"  stroke-dasharray="1.2,0.9"/>
<line x1="412.6" y1="163.6" x2="414.6" y2="163.6" stroke="#333" stroke-width="0.8" />
<line x1="412.6" y1="173.6" x2="414.6" y2="173.6" stroke="#333" stroke-width="0.8" />
<line x1="425.1" y1="155.5" x2="425.1" y2="165.5" stroke="#333" stroke-width="1.0"  stroke-dasharray="1.2,0.9"/>
<line x1="424.1" y1="155.5" x2="426.1" y2="155.5" stroke="#333" stroke-width="0.8" />
<line x1="424.1" y1="165.5" x2="426.1" y2="165.5" stroke="#333" stroke-width="0.8" />
<line x1="436.5" y1="143.4" x2="436.5" y2="153.4" stroke="#333" stroke-width="1.0"  stroke-dasharray="1.2,0.9"/>
<line x1="435.5" y1="143.4" x2="437.5" y2="143.4" stroke="#333" stroke-width="0.8" />
<line x1="435.5" y1="153.4" x2="437.5" y2="153.4" stroke="#333" stroke-width="0.8" />
<line x1="448.0" y1="129.0" x2="448.0" y2="141.0" stroke="#333" stroke-width="1.0"  stroke-dasharray="1.2,0.9"/>
<line x1="447.0" y1="129.0" x2="449.0" y2="129.0" stroke="#333" stroke-width="0.8" />
<line x1="447.0" y1="141.0" x2="449.0" y2="141.0" stroke="#333" stroke-width="0.8" />
<line x1="459.4" y1="100.0" x2="459.4" y2="112.0" stroke="#333" stroke-width="1.0"  stroke-dasharray="1.2,0.9"/>
<line x1="458.4" y1="100.0" x2="460.4" y2="100.0" stroke="#333" stroke-width="0.8" />
<line x1="458.4" y1="112.0" x2="460.4" y2="112.0" stroke="#333" stroke-width="0.8" />
<line x1="470.9" y1="90.3" x2="470.9" y2="102.3" stroke="#333" stroke-width="1.0"  stroke-dasharray="1.2,0.9"/>
<line x1="469.9" y1="90.3" x2="471.9" y2="90.3" stroke="#333" stroke-width="0.8" />
<line x1="469.9" y1="102.3" x2="471.9" y2="102.3" stroke="#333" stroke-width="0.8" />
<line x1="482.4" y1="77.8" x2="482.4" y2="89.8" stroke="#333" stroke-width="1.0"  stroke-dasharray="1.2,0.9"/>
<line x1="481.4" y1="77.8" x2="483.4" y2="77.8" stroke="#333" stroke-width="0.8" />
<line x1="481.4" y1="89.8" x2="483.4" y2="89.8" stroke="#333" stroke-width="0.8" />
<path d="M299.0,201.4C308.6,200.6 344.8,198.1 356.3,196.8C367.8,195.5 363.9,194.6 367.8,193.4C371.6,192.2 375.4,191.4 379.2,189.5C383.0,187.6 386.9,186.0 390.7,182.0C394.5,178.0 398.3,170.3 402.1,165.5C406.0,160.7 409.8,157.0 413.6,153.0C417.4,149.0 421.2,145.9 425.1,141.4C428.9,136.9 432.7,132.7 436.5,125.9C440.3,119.1 444.2,108.2 448.0,100.8C451.8,93.4 455.6,88.1 459.4,81.7C463.3,75.3 467.1,67.0 470.9,62.2C474.7,57.4 480.4,54.3 482.4,52.7" fill="none" stroke="#111" stroke-width="1.05"/>
<path d="M299.0,201.4C308.6,200.6 344.8,198.1 356.3,196.6C367.8,195.1 363.9,193.9 367.8,192.6C371.6,191.3 375.4,190.8 379.2,188.6C383.0,186.4 386.9,184.2 390.7,179.5C394.5,174.8 398.3,166.0 402.1,160.5C406.0,155.0 409.8,150.8 413.6,146.6C417.4,142.4 421.2,140.0 425.1,135.4C428.9,130.8 432.7,126.1 436.5,119.0C440.3,111.9 444.2,99.8 448.0,92.7C451.8,85.6 455.6,82.0 459.4,76.6C463.3,71.2 467.1,64.6 470.9,60.5C474.7,56.4 480.4,53.2 482.4,51.8" fill="none" stroke="#111" stroke-width="1.05"/>
<path d="M299.0,201.4C308.6,200.7 344.8,198.0 356.3,197.0C367.8,196.0 363.9,196.6 367.8,195.6C371.6,194.6 375.4,192.5 379.2,191.0C383.0,189.5 386.9,187.4 390.7,186.4C394.5,185.4 398.3,185.8 402.1,185.0C406.0,184.2 409.8,182.2 413.6,181.3C417.4,180.5 421.2,180.6 425.1,179.9C428.9,179.2 432.7,178.0 436.5,177.3C440.3,176.6 444.2,176.2 448.0,175.7C451.8,175.2 455.6,174.8 459.4,174.2C463.3,173.6 467.1,172.9 470.9,172.2C474.7,171.5 480.4,170.5 482.4,170.2" fill="none" stroke="#111" stroke-width="1.05"/>
<path d="M299.0,201.4C308.6,200.7 344.8,198.0 356.3,197.0C367.8,196.0 363.9,196.3 367.8,195.6C371.6,194.9 375.4,193.9 379.2,193.0C383.0,192.1 386.9,191.9 390.7,190.0C394.5,188.1 398.3,185.1 402.1,181.5C406.0,177.9 409.8,172.1 413.6,168.6C417.4,165.1 421.2,163.9 425.1,160.5C428.9,157.1 432.7,152.7 436.5,148.4C440.3,144.2 444.2,142.1 448.0,135.0C451.8,127.9 455.6,112.5 459.4,106.0C463.3,99.5 467.1,100.0 470.9,96.3C474.7,92.6 480.4,85.9 482.4,83.8" fill="none" stroke="#111" stroke-width="1.05"/>
<circle cx="356.3" cy="196.6" r="1.9" fill="#000"/>
<circle cx="367.8" cy="192.6" r="1.9" fill="#000"/>
<circle cx="379.2" cy="188.6" r="1.9" fill="#000"/>
<circle cx="390.7" cy="179.5" r="1.9" fill="#000"/>
<circle cx="402.1" cy="160.5" r="1.9" fill="#000"/>
<circle cx="413.6" cy="146.6" r="1.9" fill="#000"/>
<circle cx="425.1" cy="135.4" r="1.9" fill="#000"/>
<circle cx="436.5" cy="119.0" r="1.9" fill="#000"/>
<circle cx="448.0" cy="92.7" r="1.9" fill="#000"/>
<circle cx="459.4" cy="76.6" r="1.9" fill="#000"/>
<circle cx="470.9" cy="60.5" r="1.9" fill="#000"/>
<circle cx="482.4" cy="51.8" r="1.9" fill="#000"/>
<rect x="354.5" y="195.2" width="3.6" height="3.6" fill="#000"/>
<rect x="366.0" y="193.8" width="3.6" height="3.6" fill="#000"/>
<rect x="377.4" y="189.2" width="3.6" height="3.6" fill="#000"/>
<rect x="388.9" y="184.6" width="3.6" height="3.6" fill="#000"/>
<rect x="400.3" y="183.2" width="3.6" height="3.6" fill="#000"/>
<rect x="411.8" y="179.5" width="3.6" height="3.6" fill="#000"/>
<rect x="423.3" y="178.1" width="3.6" height="3.6" fill="#000"/>
<rect x="434.7" y="175.5" width="3.6" height="3.6" fill="#000"/>
<rect x="446.2" y="173.9" width="3.6" height="3.6" fill="#000"/>
<rect x="457.6" y="172.4" width="3.6" height="3.6" fill="#000"/>
<rect x="469.1" y="170.4" width="3.6" height="3.6" fill="#000"/>
<rect x="480.6" y="168.4" width="3.6" height="3.6" fill="#000"/>
<polygon points="356.3,194.9 358.4,198.7 354.2,198.7" fill="#000"/>
<polygon points="367.8,193.5 369.8,197.3 365.7,197.3" fill="#000"/>
<polygon points="379.2,190.9 381.3,194.7 377.1,194.7" fill="#000"/>
<polygon points="390.7,187.9 392.8,191.7 388.6,191.7" fill="#000"/>
<polygon points="402.1,179.4 404.2,183.2 400.1,183.2" fill="#000"/>
<polygon points="413.6,166.5 415.7,170.3 411.5,170.3" fill="#000"/>
<polygon points="425.1,158.4 427.1,162.2 423.0,162.2" fill="#000"/>
<polygon points="436.5,146.3 438.6,150.1 434.4,150.1" fill="#000"/>
<polygon points="448.0,132.9 450.1,136.7 445.9,136.7" fill="#000"/>
<polygon points="459.4,103.9 461.5,107.7 457.4,107.7" fill="#000"/>
<polygon points="470.9,94.2 473.0,98.0 468.8,98.0" fill="#000"/>
<polygon points="482.4,81.7 484.4,85.5 480.3,85.5" fill="#000"/>
<path d="M354.7,195.2L357.9,198.4M357.9,195.2L354.7,198.4" stroke="#444" stroke-width="0.9"/>
<path d="M366.2,191.8L369.4,195.0M369.4,191.8L366.2,195.0" stroke="#444" stroke-width="0.9"/>
<path d="M377.6,187.9L380.8,191.1M380.8,187.9L377.6,191.1" stroke="#444" stroke-width="0.9"/>
<path d="M389.1,180.4L392.3,183.6M392.3,180.4L389.1,183.6" stroke="#444" stroke-width="0.9"/>
<path d="M400.5,163.9L403.7,167.1M403.7,163.9L400.5,167.1" stroke="#444" stroke-width="0.9"/>
<path d="M412.0,151.4L415.2,154.6M415.2,151.4L412.0,154.6" stroke="#444" stroke-width="0.9"/>
<path d="M423.5,139.8L426.7,143.0M426.7,139.8L423.5,143.0" stroke="#444" stroke-width="0.9"/>
<path d="M434.9,124.3L438.1,127.5M438.1,124.3L434.9,127.5" stroke="#444" stroke-width="0.9"/>
<path d="M446.4,99.2L449.6,102.4M449.6,99.2L446.4,102.4" stroke="#444" stroke-width="0.9"/>
<path d="M457.8,80.1L461.0,83.3M461.0,80.1L457.8,83.3" stroke="#444" stroke-width="0.9"/>
<path d="M469.3,60.6L472.5,63.8M472.5,60.6L469.3,63.8" stroke="#444" stroke-width="0.9"/>
<path d="M480.8,51.1L484.0,54.3M484.0,51.1L480.8,54.3" stroke="#444" stroke-width="0.9"/>
<polygon points="482.4,35.2 483.2,37.0 485.2,37.2 483.6,38.5 484.1,40.4 482.4,39.4 480.7,40.4 481.2,38.5 479.6,37.2 481.6,37.0" fill="#000"/>
<polygon points="482.4,155.8 483.2,157.6 485.2,157.8 483.6,159.1 484.1,161.0 482.4,160.0 480.7,161.0 481.2,159.1 479.6,157.8 481.6,157.6" fill="#000"/>
<rect x="297.1" y="198.8" width="3.6" height="3.6" fill="#000"/>
<circle cx="298.9" cy="200.6" r="1.9" fill="#000"/>
<text x="-0.2" y="266.6" font-size="25.5" font-weight="bold" fill="#000" >C</text>
<line x1="49.0" y1="279.2" x2="49.0" y2="436.6" stroke="#222" stroke-width="1.3" />
<line x1="48.4" y1="436.0" x2="259.0" y2="436.0" stroke="#222" stroke-width="1.3" />
<text x="44.4" y="283.4" font-size="9.9" text-anchor="end" textLength="10.5" lengthAdjust="spacingAndGlyphs" font-weight="bold" fill="#000" >35</text>
<line x1="47.6" y1="279.7" x2="49.0" y2="279.7" stroke="#222" stroke-width="1.0" />
<text x="44.4" y="306.6" font-size="9.9" text-anchor="end" textLength="10.5" lengthAdjust="spacingAndGlyphs" font-weight="bold" fill="#000" >30</text>
<line x1="47.6" y1="302.0" x2="49.0" y2="302.0" stroke="#222" stroke-width="1.0" />
<text x="44.4" y="328.8" font-size="9.9" text-anchor="end" textLength="10.5" lengthAdjust="spacingAndGlyphs" font-weight="bold" fill="#000" >25</text>
<line x1="47.6" y1="324.3" x2="49.0" y2="324.3" stroke="#222" stroke-width="1.0" />
<text x="44.4" y="350.3" font-size="9.9" text-anchor="end" textLength="10.5" lengthAdjust="spacingAndGlyphs" font-weight="bold" fill="#000" >20</text>
<line x1="47.6" y1="346.6" x2="49.0" y2="346.6" stroke="#222" stroke-width="1.0" />
<text x="44.4" y="373.6" font-size="9.9" text-anchor="end" textLength="10.5" lengthAdjust="spacingAndGlyphs" font-weight="bold" fill="#000" >15</text>
<line x1="47.6" y1="369.0" x2="49.0" y2="369.0" stroke="#222" stroke-width="1.0" />
<text x="44.4" y="395.8" font-size="9.9" text-anchor="end" textLength="10.5" lengthAdjust="spacingAndGlyphs" font-weight="bold" fill="#000" >10</text>
<line x1="47.6" y1="391.3" x2="49.0" y2="391.3" stroke="#222" stroke-width="1.0" />
<text x="44.4" y="418.1" font-size="9.9" text-anchor="end" textLength="5.2" lengthAdjust="spacingAndGlyphs" font-weight="bold" fill="#000" >5</text>
<line x1="47.6" y1="413.6" x2="49.0" y2="413.6" stroke="#222" stroke-width="1.0" />
<text x="44.4" y="439.6" font-size="9.9" text-anchor="end" textLength="5.2" lengthAdjust="spacingAndGlyphs" font-weight="bold" fill="#000" >0</text>
<line x1="47.6" y1="435.9" x2="49.0" y2="435.9" stroke="#222" stroke-width="1.0" />
<text x="49.2" y="448.3" font-size="9.9" text-anchor="middle" textLength="5.2" lengthAdjust="spacingAndGlyphs" font-weight="bold" fill="#000" >0</text>
<line x1="49.0" y1="436.0" x2="49.0" y2="437.4" stroke="#222" stroke-width="1.0" />
<text x="79.0" y="448.3" font-size="9.9" text-anchor="middle" textLength="5.2" lengthAdjust="spacingAndGlyphs" font-weight="bold" fill="#000" >5</text>
<line x1="78.8" y1="436.0" x2="78.8" y2="437.4" stroke="#222" stroke-width="1.0" />
<text x="108.4" y="448.3" font-size="9.9" text-anchor="middle" textLength="10.3" lengthAdjust="spacingAndGlyphs" font-weight="bold" fill="#000" >10</text>
<line x1="108.6" y1="436.0" x2="108.6" y2="437.4" stroke="#222" stroke-width="1.0" />
<text x="138.4" y="448.3" font-size="9.9" text-anchor="middle" textLength="10.3" lengthAdjust="spacingAndGlyphs" font-weight="bold" fill="#000" >15</text>
<line x1="138.4" y1="436.0" x2="138.4" y2="437.4" stroke="#222" stroke-width="1.0" />
<text x="169.0" y="448.3" font-size="9.9" text-anchor="middle" textLength="10.3" lengthAdjust="spacingAndGlyphs" font-weight="bold" fill="#000" >20</text>
<line x1="168.3" y1="436.0" x2="168.3" y2="437.4" stroke="#222" stroke-width="1.0" />
<text x="198.6" y="448.3" font-size="9.9" text-anchor="middle" textLength="10.3" lengthAdjust="spacingAndGlyphs" font-weight="bold" fill="#000" >25</text>
<line x1="198.1" y1="436.0" x2="198.1" y2="437.4" stroke="#222" stroke-width="1.0" />
<text x="228.2" y="448.3" font-size="9.9" text-anchor="middle" textLength="10.3" lengthAdjust="spacingAndGlyphs" font-weight="bold" fill="#000" >30</text>
<line x1="227.9" y1="436.0" x2="227.9" y2="437.4" stroke="#222" stroke-width="1.0" />
<text x="257.9" y="448.3" font-size="9.9" text-anchor="middle" textLength="10.3" lengthAdjust="spacingAndGlyphs" font-weight="bold" fill="#000" >35</text>
<line x1="257.7" y1="436.0" x2="257.7" y2="437.4" stroke="#222" stroke-width="1.0" />
<text x="110.5" y="461.0" font-size="8.9" textLength="83.2" lengthAdjust="spacing" font-weight="bold" fill="#000" >days of treatment</text>
<text transform="translate(24.6,405.3) rotate(-90)" font-size="12" font-weight="bold" textLength="94.5" lengthAdjust="spacingAndGlyphs">body weight (g)</text>
<line x1="55.6" y1="379.8" x2="59.0" y2="379.8" stroke="#222" stroke-width="1.3" />
<line x1="65.6" y1="379.8" x2="69.0" y2="379.8" stroke="#222" stroke-width="1.3" />
<path d="M60.8,378.3L63.8,381.3M63.8,378.3L60.8,381.3" stroke="#333" stroke-width="1.0"/>
<text x="73.8" y="382.3" font-size="11.4" textLength="59.2" lengthAdjust="spacing" font-weight="bold" fill="#000" >control, po</text>
<line x1="55.6" y1="393.7" x2="69.0" y2="393.7" stroke="#111" stroke-width="1.3" />
<circle cx="62.3" cy="393.7" r="1.9" fill="#000"/>
<text x="73.8" y="396.2" font-size="11.4" textLength="54.8" lengthAdjust="spacing" font-weight="bold" fill="#000" >control, iv</text>
<line x1="55.6" y1="407.5" x2="69.0" y2="407.5" stroke="#111" stroke-width="1.3" />
<polygon points="62.3,404.9 64.9,409.6 59.7,409.6" fill="#000"/>
<text x="73.8" y="410.0" font-size="11.4" textLength="76.0" lengthAdjust="spacing" font-weight="bold" fill="#000" >vinblastine, iv</text>
<line x1="55.6" y1="421.4" x2="69.0" y2="421.4" stroke="#111" stroke-width="1.3" />
<rect x="60.3" y="419.4" width="4.0" height="4.0" fill="#000"/>
<text x="73.8" y="423.9" font-size="11.4" textLength="56.0" lengthAdjust="spacing" font-weight="bold" fill="#000" >EM011, po</text>
<line x1="48.6" y1="340.2" x2="48.6" y2="345.8" stroke="#555" stroke-width="1.0"  stroke-dasharray="1.2,0.9"/>
<line x1="47.6" y1="340.2" x2="49.6" y2="340.2" stroke="#555" stroke-width="0.8" />
<line x1="47.6" y1="345.8" x2="49.6" y2="345.8" stroke="#555" stroke-width="0.8" />
<line x1="54.3" y1="340.2" x2="54.3" y2="345.8" stroke="#555" stroke-width="1.0"  stroke-dasharray="1.2,0.9"/>
<line x1="53.3" y1="340.2" x2="55.3" y2="340.2" stroke="#555" stroke-width="0.8" />
<line x1="53.3" y1="345.8" x2="55.3" y2="345.8" stroke="#555" stroke-width="0.8" />
<line x1="95.4" y1="333.5" x2="95.4" y2="341.9" stroke="#555" stroke-width="1.0"  stroke-dasharray="1.2,0.9"/>
<line x1="94.4" y1="333.5" x2="96.4" y2="333.5" stroke="#555" stroke-width="0.8" />
<line x1="94.4" y1="341.9" x2="96.4" y2="341.9" stroke="#555" stroke-width="0.8" />
<line x1="118.0" y1="332.7" x2="118.0" y2="341.1" stroke="#555" stroke-width="1.0"  stroke-dasharray="1.2,0.9"/>
<line x1="117.0" y1="332.7" x2="119.0" y2="332.7" stroke="#555" stroke-width="0.8" />
<line x1="117.0" y1="341.1" x2="119.0" y2="341.1" stroke="#555" stroke-width="0.8" />
<line x1="129.7" y1="327.3" x2="129.7" y2="335.7" stroke="#555" stroke-width="1.0"  stroke-dasharray="1.2,0.9"/>
<line x1="128.7" y1="327.3" x2="130.7" y2="327.3" stroke="#555" stroke-width="0.8" />
<line x1="128.7" y1="335.7" x2="130.7" y2="335.7" stroke="#555" stroke-width="0.8" />
<line x1="141.5" y1="324.3" x2="141.5" y2="332.7" stroke="#555" stroke-width="1.0"  stroke-dasharray="1.2,0.9"/>
<line x1="140.5" y1="324.3" x2="142.5" y2="324.3" stroke="#555" stroke-width="0.8" />
<line x1="140.5" y1="332.7" x2="142.5" y2="332.7" stroke="#555" stroke-width="0.8" />
<line x1="153.0" y1="320.6" x2="153.0" y2="331.0" stroke="#555" stroke-width="1.0"  stroke-dasharray="1.2,0.9"/>
<line x1="152.0" y1="320.6" x2="154.0" y2="320.6" stroke="#555" stroke-width="0.8" />
<line x1="152.0" y1="331.0" x2="154.0" y2="331.0" stroke="#555" stroke-width="0.8" />
<line x1="164.6" y1="320.2" x2="164.6" y2="330.6" stroke="#555" stroke-width="1.0"  stroke-dasharray="1.2,0.9"/>
<line x1="163.6" y1="320.2" x2="165.6" y2="320.2" stroke="#555" stroke-width="0.8" />
<line x1="163.6" y1="330.6" x2="165.6" y2="330.6" stroke="#555" stroke-width="0.8" />
<line x1="176.6" y1="312.8" x2="176.6" y2="323.2" stroke="#555" stroke-width="1.0"  stroke-dasharray="1.2,0.9"/>
<line x1="175.6" y1="312.8" x2="177.6" y2="312.8" stroke="#555" stroke-width="0.8" />
<line x1="175.6" y1="323.2" x2="177.6" y2="323.2" stroke="#555" stroke-width="0.8" />
<line x1="188.1" y1="305.8" x2="188.1" y2="316.2" stroke="#555" stroke-width="1.0"  stroke-dasharray="1.2,0.9"/>
<line x1="187.1" y1="305.8" x2="189.1" y2="305.8" stroke="#555" stroke-width="0.8" />
<line x1="187.1" y1="316.2" x2="189.1" y2="316.2" stroke="#555" stroke-width="0.8" />
<line x1="199.7" y1="298.0" x2="199.7" y2="308.4" stroke="#555" stroke-width="1.0"  stroke-dasharray="1.2,0.9"/>
<line x1="198.7" y1="298.0" x2="200.7" y2="298.0" stroke="#555" stroke-width="0.8" />
<line x1="198.7" y1="308.4" x2="200.7" y2="308.4" stroke="#555" stroke-width="0.8" />
<line x1="48.6" y1="340.2" x2="48.6" y2="345.8" stroke="#333" stroke-width="1.0"  stroke-dasharray="1.2,0.9"/>
<line x1="47.6" y1="340.2" x2="49.6" y2="340.2" stroke="#333" stroke-width="0.8" />
<line x1="47.6" y1="345.8" x2="49.6" y2="345.8" stroke="#333" stroke-width="0.8" />
<line x1="54.3" y1="340.2" x2="54.3" y2="345.8" stroke="#333" stroke-width="1.0"  stroke-dasharray="1.2,0.9"/>
<line x1="53.3" y1="340.2" x2="55.3" y2="340.2" stroke="#333" stroke-width="0.8" />
<line x1="53.3" y1="345.8" x2="55.3" y2="345.8" stroke="#333" stroke-width="0.8" />
<line x1="95.4" y1="333.5" x2="95.4" y2="341.9" stroke="#333" stroke-width="1.0"  stroke-dasharray="1.2,0.9"/>
<line x1="94.4" y1="333.5" x2="96.4" y2="333.5" stroke="#333" stroke-width="0.8" />
<line x1="94.4" y1="341.9" x2="96.4" y2="341.9" stroke="#333" stroke-width="0.8" />
<line x1="118.0" y1="326.6" x2="118.0" y2="335.0" stroke="#333" stroke-width="1.0"  stroke-dasharray="1.2,0.9"/>
<line x1="117.0" y1="326.6" x2="119.0" y2="326.6" stroke="#333" stroke-width="0.8" />
<line x1="117.0" y1="335.0" x2="119.0" y2="335.0" stroke="#333" stroke-width="0.8" />
<line x1="129.7" y1="327.3" x2="129.7" y2="335.7" stroke="#333" stroke-width="1.0"  stroke-dasharray="1.2,0.9"/>
<line x1="128.7" y1="327.3" x2="130.7" y2="327.3" stroke="#333" stroke-width="0.8" />
<line x1="128.7" y1="335.7" x2="130.7" y2="335.7" stroke="#333" stroke-width="0.8" />
<line x1="141.5" y1="324.3" x2="141.5" y2="332.7" stroke="#333" stroke-width="1.0"  stroke-dasharray="1.2,0.9"/>
<line x1="140.5" y1="324.3" x2="142.5" y2="324.3" stroke="#333" stroke-width="0.8" />
<line x1="140.5" y1="332.7" x2="142.5" y2="332.7" stroke="#333" stroke-width="0.8" />
<line x1="153.0" y1="320.6" x2="153.0" y2="331.0" stroke="#333" stroke-width="1.0"  stroke-dasharray="1.2,0.9"/>
<line x1="152.0" y1="320.6" x2="154.0" y2="320.6" stroke="#333" stroke-width="0.8" />
<line x1="152.0" y1="331.0" x2="154.0" y2="331.0" stroke="#333" stroke-width="0.8" />
<line x1="164.6" y1="320.2" x2="164.6" y2="330.6" stroke="#333" stroke-width="1.0"  stroke-dasharray="1.2,0.9"/>
<line x1="163.6" y1="320.2" x2="165.6" y2="320.2" stroke="#333" stroke-width="0.8" />
<line x1="163.6" y1="330.6" x2="165.6" y2="330.6" stroke="#333" stroke-width="0.8" />
<line x1="176.6" y1="311.7" x2="176.6" y2="322.1" stroke="#333" stroke-width="1.0"  stroke-dasharray="1.2,0.9"/>
<line x1="175.6" y1="311.7" x2="177.6" y2="311.7" stroke="#333" stroke-width="0.8" />
<line x1="175.6" y1="322.1" x2="177.6" y2="322.1" stroke="#333" stroke-width="0.8" />
<line x1="188.1" y1="308.8" x2="188.1" y2="319.2" stroke="#333" stroke-width="1.0"  stroke-dasharray="1.2,0.9"/>
<line x1="187.1" y1="308.8" x2="189.1" y2="308.8" stroke="#333" stroke-width="0.8" />
<line x1="187.1" y1="319.2" x2="189.1" y2="319.2" stroke="#333" stroke-width="0.8" />
<line x1="199.7" y1="303.3" x2="199.7" y2="313.7" stroke="#333" stroke-width="1.0"  stroke-dasharray="1.2,0.9"/>
<line x1="198.7" y1="303.3" x2="200.7" y2="303.3" stroke="#333" stroke-width="0.8" />
<line x1="198.7" y1="313.7" x2="200.7" y2="313.7" stroke="#333" stroke-width="0.8" />
<line x1="223.0" y1="300.9" x2="223.0" y2="311.3" stroke="#333" stroke-width="1.0"  stroke-dasharray="1.2,0.9"/>
<line x1="222.0" y1="300.9" x2="224.0" y2="300.9" stroke="#333" stroke-width="0.8" />
<line x1="222.0" y1="311.3" x2="224.0" y2="311.3" stroke="#333" stroke-width="0.8" />
<line x1="48.6" y1="334.5" x2="48.6" y2="340.1" stroke="#333" stroke-width="1.0"  stroke-dasharray="1.2,0.9"/>
<line x1="47.6" y1="334.5" x2="49.6" y2="334.5" stroke="#333" stroke-width="0.8" />
<line x1="47.6" y1="340.1" x2="49.6" y2="340.1" stroke="#333" stroke-width="0.8" />
<line x1="54.3" y1="334.5" x2="54.3" y2="340.1" stroke="#333" stroke-width="1.0"  stroke-dasharray="1.2,0.9"/>
<line x1="53.3" y1="334.5" x2="55.3" y2="334.5" stroke="#333" stroke-width="0.8" />
<line x1="53.3" y1="340.1" x2="55.3" y2="340.1" stroke="#333" stroke-width="0.8" />
<line x1="95.4" y1="327.3" x2="95.4" y2="335.7" stroke="#333" stroke-width="1.0"  stroke-dasharray="1.2,0.9"/>
<line x1="94.4" y1="327.3" x2="96.4" y2="327.3" stroke="#333" stroke-width="0.8" />
<line x1="94.4" y1="335.7" x2="96.4" y2="335.7" stroke="#333" stroke-width="0.8" />
<line x1="118.0" y1="324.7" x2="118.0" y2="333.1" stroke="#333" stroke-width="1.0"  stroke-dasharray="1.2,0.9"/>
<line x1="117.0" y1="324.7" x2="119.0" y2="324.7" stroke="#333" stroke-width="0.8" />
<line x1="117.0" y1="333.1" x2="119.0" y2="333.1" stroke="#333" stroke-width="0.8" />
<line x1="129.7" y1="321.6" x2="129.7" y2="330.0" stroke="#333" stroke-width="1.0"  stroke-dasharray="1.2,0.9"/>
<line x1="128.7" y1="321.6" x2="130.7" y2="321.6" stroke="#333" stroke-width="0.8" />
<line x1="128.7" y1="330.0" x2="130.7" y2="330.0" stroke="#333" stroke-width="0.8" />
<line x1="141.5" y1="318.9" x2="141.5" y2="327.3" stroke="#333" stroke-width="1.0"  stroke-dasharray="1.2,0.9"/>
<line x1="140.5" y1="318.9" x2="142.5" y2="318.9" stroke="#333" stroke-width="0.8" />
<line x1="140.5" y1="327.3" x2="142.5" y2="327.3" stroke="#333" stroke-width="0.8" />
<line x1="153.0" y1="314.8" x2="153.0" y2="325.2" stroke="#333" stroke-width="1.0"  stroke-dasharray="1.2,0.9"/>
<line x1="152.0" y1="314.8" x2="154.0" y2="314.8" stroke="#333" stroke-width="0.8" />
<line x1="152.0" y1="325.2" x2="154.0" y2="325.2" stroke="#333" stroke-width="0.8" />
<line x1="164.6" y1="314.8" x2="164.6" y2="325.2" stroke="#333" stroke-width="1.0"  stroke-dasharray="1.2,0.9"/>
<line x1="163.6" y1="314.8" x2="165.6" y2="314.8" stroke="#333" stroke-width="0.8" />
<line x1="163.6" y1="325.2" x2="165.6" y2="325.2" stroke="#333" stroke-width="0.8" />
<line x1="176.6" y1="316.1" x2="176.6" y2="326.5" stroke="#333" stroke-width="1.0"  stroke-dasharray="1.2,0.9"/>
<line x1="175.6" y1="316.1" x2="177.6" y2="316.1" stroke="#333" stroke-width="0.8" />
<line x1="175.6" y1="326.5" x2="177.6" y2="326.5" stroke="#333" stroke-width="0.8" />
<line x1="188.1" y1="316.1" x2="188.1" y2="326.5" stroke="#333" stroke-width="1.0"  stroke-dasharray="1.2,0.9"/>
<line x1="187.1" y1="316.1" x2="189.1" y2="316.1" stroke="#333" stroke-width="0.8" />
<line x1="187.1" y1="326.5" x2="189.1" y2="326.5" stroke="#333" stroke-width="0.8" />
<line x1="199.7" y1="316.1" x2="199.7" y2="326.5" stroke="#333" stroke-width="1.0"  stroke-dasharray="1.2,0.9"/>
<line x1="198.7" y1="316.1" x2="200.7" y2="316.1" stroke="#333" stroke-width="0.8" />
<line x1="198.7" y1="326.5" x2="200.7" y2="326.5" stroke="#333" stroke-width="0.8" />
<line x1="223.0" y1="315.3" x2="223.0" y2="325.7" stroke="#333" stroke-width="1.0"  stroke-dasharray="1.2,0.9"/>
<line x1="222.0" y1="315.3" x2="224.0" y2="315.3" stroke="#333" stroke-width="0.8" />
<line x1="222.0" y1="325.7" x2="224.0" y2="325.7" stroke="#333" stroke-width="0.8" />
<line x1="48.6" y1="340.2" x2="48.6" y2="345.8" stroke="#333" stroke-width="1.0"  stroke-dasharray="1.2,0.9"/>
<line x1="47.6" y1="340.2" x2="49.6" y2="340.2" stroke="#333" stroke-width="0.8" />
<line x1="47.6" y1="345.8" x2="49.6" y2="345.8" stroke="#333" stroke-width="0.8" />
<line x1="54.3" y1="340.2" x2="54.3" y2="345.8" stroke="#333" stroke-width="1.0"  stroke-dasharray="1.2,0.9"/>
<line x1="53.3" y1="340.2" x2="55.3" y2="340.2" stroke="#333" stroke-width="0.8" />
<line x1="53.3" y1="345.8" x2="55.3" y2="345.8" stroke="#333" stroke-width="0.8" />
<line x1="95.4" y1="333.5" x2="95.4" y2="341.9" stroke="#333" stroke-width="1.0"  stroke-dasharray="1.2,0.9"/>
<line x1="94.4" y1="333.5" x2="96.4" y2="333.5" stroke="#333" stroke-width="0.8" />
<line x1="94.4" y1="341.9" x2="96.4" y2="341.9" stroke="#333" stroke-width="0.8" />
<line x1="118.0" y1="345.0" x2="118.0" y2="353.4" stroke="#333" stroke-width="1.0"  stroke-dasharray="1.2,0.9"/>
<line x1="117.0" y1="345.0" x2="119.0" y2="345.0" stroke="#333" stroke-width="0.8" />
<line x1="117.0" y1="353.4" x2="119.0" y2="353.4" stroke="#333" stroke-width="0.8" />
<line x1="129.7" y1="350.8" x2="129.7" y2="359.2" stroke="#333" stroke-width="1.0"  stroke-dasharray="1.2,0.9"/>
<line x1="128.7" y1="350.8" x2="130.7" y2="350.8" stroke="#333" stroke-width="0.8" />
<line x1="128.7" y1="359.2" x2="130.7" y2="359.2" stroke="#333" stroke-width="0.8" />
<line x1="141.5" y1="359.3" x2="141.5" y2="367.7" stroke="#333" stroke-width="1.0"  stroke-dasharray="1.2,0.9"/>
<line x1="140.5" y1="359.3" x2="142.5" y2="359.3" stroke="#333" stroke-width="0.8" />
<line x1="140.5" y1="367.7" x2="142.5" y2="367.7" stroke="#333" stroke-width="0.8" />
<line x1="153.0" y1="367.1" x2="153.0" y2="377.5" stroke="#333" stroke-width="1.0"  stroke-dasharray="1.2,0.9"/>
<line x1="152.0" y1="367.1" x2="154.0" y2="367.1" stroke="#333" stroke-width="0.8" />
<line x1="152.0" y1="377.5" x2="154.0" y2="377.5" stroke="#333" stroke-width="0.8" />
<line x1="164.6" y1="372.8" x2="164.6" y2="383.2" stroke="#333" stroke-width="1.0"  stroke-dasharray="1.2,0.9"/>
<line x1="163.6" y1="372.8" x2="165.6" y2="372.8" stroke="#333" stroke-width="0.8" />
<line x1="163.6" y1="383.2" x2="165.6" y2="383.2" stroke="#333" stroke-width="0.8" />
<line x1="176.6" y1="373.6" x2="176.6" y2="384.0" stroke="#333" stroke-width="1.0"  stroke-dasharray="1.2,0.9"/>
<line x1="175.6" y1="373.6" x2="177.6" y2="373.6" stroke="#333" stroke-width="0.8" />
<line x1="175.6" y1="384.0" x2="177.6" y2="384.0" stroke="#333" stroke-width="0.8" />
<line x1="188.1" y1="375.6" x2="188.1" y2="386.0" stroke="#333" stroke-width="1.0"  stroke-dasharray="1.2,0.9"/>
<line x1="187.1" y1="375.6" x2="189.1" y2="375.6" stroke="#333" stroke-width="0.8" />
<line x1="187.1" y1="386.0" x2="189.1" y2="386.0" stroke="#333" stroke-width="0.8" />
<line x1="199.7" y1="375.6" x2="199.7" y2="386.0" stroke="#333" stroke-width="1.0"  stroke-dasharray="1.2,0.9"/>
<line x1="198.7" y1="375.6" x2="200.7" y2="375.6" stroke="#333" stroke-width="0.8" />
<line x1="198.7" y1="386.0" x2="200.7" y2="386.0" stroke="#333" stroke-width="0.8" />
<line x1="223.0" y1="378.6" x2="223.0" y2="389.0" stroke="#333" stroke-width="1.0"  stroke-dasharray="1.2,0.9"/>
<line x1="222.0" y1="378.6" x2="224.0" y2="378.6" stroke="#333" stroke-width="0.8" />
<line x1="222.0" y1="389.0" x2="224.0" y2="389.0" stroke="#333" stroke-width="0.8" />
<path d="M48.6,343.0C49.5,343.0 46.5,343.9 54.3,343.0C62.1,342.1 84.8,338.7 95.4,337.7C106.0,336.7 112.3,337.9 118.0,336.9C123.7,335.9 125.8,332.9 129.7,331.5C133.6,330.1 137.6,329.4 141.5,328.5C145.4,327.6 149.2,326.3 153.0,325.8C156.8,325.3 160.7,326.7 164.6,325.4C168.5,324.1 172.7,320.4 176.6,318.0C180.5,315.6 184.2,313.5 188.1,311.0C191.9,308.5 197.8,304.5 199.7,303.2" fill="none" stroke="#111" stroke-width="1.05"/>
<path d="M48.6,343.0C49.5,343.0 46.5,343.9 54.3,343.0C62.1,342.1 84.8,339.7 95.4,337.7C106.0,335.7 112.3,331.8 118.0,330.8C123.7,329.8 125.8,331.9 129.7,331.5C133.6,331.1 137.6,329.4 141.5,328.5C145.4,327.6 149.2,326.3 153.0,325.8C156.8,325.3 160.7,326.9 164.6,325.4C168.5,323.9 172.7,318.8 176.6,316.9C180.5,315.0 184.2,315.4 188.1,314.0C191.9,312.6 193.9,309.8 199.7,308.5C205.5,307.2 219.1,306.5 223.0,306.1" fill="none" stroke="#111" stroke-width="1.05"/>
<path d="M48.6,337.3C49.5,337.3 46.5,338.3 54.3,337.3C62.1,336.3 84.8,332.9 95.4,331.5C106.0,330.1 112.3,329.8 118.0,328.9C123.7,327.9 125.8,326.8 129.7,325.8C133.6,324.8 137.6,324.1 141.5,323.1C145.4,322.1 149.2,320.5 153.0,320.0C156.8,319.5 160.7,319.8 164.6,320.0C168.5,320.2 172.7,321.1 176.6,321.3C180.5,321.5 184.2,321.3 188.1,321.3C191.9,321.3 193.9,321.4 199.7,321.3C205.5,321.2 219.1,320.6 223.0,320.5" fill="none" stroke="#111" stroke-width="1.05"/>
<path d="M48.6,343.0C49.5,343.0 46.5,343.9 54.3,343.0C62.1,342.1 84.8,336.7 95.4,337.7C106.0,338.7 112.3,346.3 118.0,349.2C123.7,352.1 125.8,352.6 129.7,355.0C133.6,357.4 137.6,360.6 141.5,363.5C145.4,366.4 149.2,369.9 153.0,372.3C156.8,374.7 160.7,376.9 164.6,378.0C168.5,379.1 172.7,378.3 176.6,378.8C180.5,379.3 184.2,380.5 188.1,380.8C191.9,381.1 193.9,380.3 199.7,380.8C205.5,381.3 219.1,383.3 223.0,383.8" fill="none" stroke="#111" stroke-width="1.05"/>
<circle cx="48.6" cy="343.0" r="1.9" fill="#000"/>
<circle cx="54.3" cy="343.0" r="1.9" fill="#000"/>
<circle cx="95.4" cy="337.7" r="1.9" fill="#000"/>
<circle cx="118.0" cy="330.8" r="1.9" fill="#000"/>
<circle cx="129.7" cy="331.5" r="1.9" fill="#000"/>
<circle cx="141.5" cy="328.5" r="1.9" fill="#000"/>
<circle cx="153.0" cy="325.8" r="1.9" fill="#000"/>
<circle cx="164.6" cy="325.4" r="1.9" fill="#000"/>
<circle cx="176.6" cy="316.9" r="1.9" fill="#000"/>
<circle cx="188.1" cy="314.0" r="1.9" fill="#000"/>
<circle cx="199.7" cy="308.5" r="1.9" fill="#000"/>
<circle cx="223.0" cy="306.1" r="1.9" fill="#000"/>
<rect x="46.8" y="335.5" width="3.6" height="3.6" fill="#000"/>
<rect x="52.5" y="335.5" width="3.6" height="3.6" fill="#000"/>
<rect x="93.6" y="329.7" width="3.6" height="3.6" fill="#000"/>
<rect x="116.2" y="327.1" width="3.6" height="3.6" fill="#000"/>
<rect x="127.9" y="324.0" width="3.6" height="3.6" fill="#000"/>
<rect x="139.7" y="321.3" width="3.6" height="3.6" fill="#000"/>
<rect x="151.2" y="318.2" width="3.6" height="3.6" fill="#000"/>
<rect x="162.8" y="318.2" width="3.6" height="3.6" fill="#000"/>
<rect x="174.8" y="319.5" width="3.6" height="3.6" fill="#000"/>
<rect x="186.3" y="319.5" width="3.6" height="3.6" fill="#000"/>
<rect x="197.9" y="319.5" width="3.6" height="3.6" fill="#000"/>
<rect x="221.2" y="318.7" width="3.6" height="3.6" fill="#000"/>
<polygon points="48.6,340.9 50.7,344.7 46.5,344.7" fill="#000"/>
<polygon points="54.3,340.9 56.4,344.7 52.2,344.7" fill="#000"/>
<polygon points="95.4,335.6 97.5,339.4 93.3,339.4" fill="#000"/>
<polygon points="118.0,347.1 120.1,350.9 115.9,350.9" fill="#000"/>
<polygon points="129.7,352.9 131.8,356.7 127.6,356.7" fill="#000"/>
<polygon points="141.5,361.4 143.6,365.2 139.4,365.2" fill="#000"/>
<polygon points="153.0,370.2 155.1,374.0 150.9,374.0" fill="#000"/>
<polygon points="164.6,375.9 166.7,379.7 162.5,379.7" fill="#000"/>
<polygon points="176.6,376.7 178.7,380.5 174.5,380.5" fill="#000"/>
<polygon points="188.1,378.7 190.2,382.5 186.0,382.5" fill="#000"/>
<polygon points="199.7,378.7 201.8,382.5 197.6,382.5" fill="#000"/>
<polygon points="223.0,381.7 225.1,385.5 220.9,385.5" fill="#000"/>
<path d="M47.0,341.4L50.2,344.6M50.2,341.4L47.0,344.6" stroke="#444" stroke-width="0.9"/>
<path d="M52.7,341.4L55.9,344.6M55.9,341.4L52.7,344.6" stroke="#444" stroke-width="0.9"/>
<path d="M93.8,336.1L97.0,339.3M97.0,336.1L93.8,339.3" stroke="#444" stroke-width="0.9"/>
<path d="M116.4,335.3L119.6,338.5M119.6,335.3L116.4,338.5" stroke="#444" stroke-width="0.9"/>
<path d="M128.1,329.9L131.3,333.1M131.3,329.9L128.1,333.1" stroke="#444" stroke-width="0.9"/>
<path d="M139.9,326.9L143.1,330.1M143.1,326.9L139.9,330.1" stroke="#444" stroke-width="0.9"/>
<path d="M151.4,324.2L154.6,327.4M154.6,324.2L151.4,327.4" stroke="#444" stroke-width="0.9"/>
<path d="M163.0,323.8L166.2,327.0M166.2,323.8L163.0,327.0" stroke="#444" stroke-width="0.9"/>
<path d="M175.0,316.4L178.2,319.6M178.2,316.4L175.0,319.6" stroke="#444" stroke-width="0.9"/>
<path d="M186.5,309.4L189.7,312.6M189.7,309.4L186.5,312.6" stroke="#444" stroke-width="0.9"/>
<path d="M198.1,301.6L201.3,304.8M201.3,301.6L198.1,304.8" stroke="#444" stroke-width="0.9"/>
<text x="273.3" y="267.0" font-size="25.5" font-weight="bold" fill="#000" >D</text>
<line x1="297.0" y1="280.2" x2="297.0" y2="436.8" stroke="#222" stroke-width="1.3" />
<line x1="296.4" y1="436.2" x2="509.4" y2="436.2" stroke="#222" stroke-width="1.3" />
<text x="292.6" y="284.1" font-size="9.9" text-anchor="end" textLength="10.5" lengthAdjust="spacingAndGlyphs" font-weight="bold" fill="#000" >30</text>
<line x1="295.6" y1="280.8" x2="297.0" y2="280.8" stroke="#222" stroke-width="1.0" />
<text x="292.6" y="310.6" font-size="9.9" text-anchor="end" textLength="10.5" lengthAdjust="spacingAndGlyphs" font-weight="bold" fill="#000" >25</text>
<line x1="295.6" y1="306.7" x2="297.0" y2="306.7" stroke="#222" stroke-width="1.0" />
<text x="292.6" y="334.3" font-size="9.9" text-anchor="end" textLength="10.5" lengthAdjust="spacingAndGlyphs" font-weight="bold" fill="#000" >20</text>
<line x1="295.6" y1="332.7" x2="297.0" y2="332.7" stroke="#222" stroke-width="1.0" />
<text x="292.6" y="362.5" font-size="9.9" text-anchor="end" textLength="10.5" lengthAdjust="spacingAndGlyphs" font-weight="bold" fill="#000" >15</text>
<line x1="295.6" y1="358.6" x2="297.0" y2="358.6" stroke="#222" stroke-width="1.0" />
<text x="292.6" y="388.0" font-size="9.9" text-anchor="end" textLength="10.5" lengthAdjust="spacingAndGlyphs" font-weight="bold" fill="#000" >10</text>
<line x1="295.6" y1="384.5" x2="297.0" y2="384.5" stroke="#222" stroke-width="1.0" />
<text x="292.6" y="414.2" font-size="9.9" text-anchor="end" textLength="5.2" lengthAdjust="spacingAndGlyphs" font-weight="bold" fill="#000" >5</text>
<line x1="295.6" y1="410.5" x2="297.0" y2="410.5" stroke="#222" stroke-width="1.0" />
<text x="292.6" y="439.6" font-size="9.9" text-anchor="end" textLength="5.2" lengthAdjust="spacingAndGlyphs" font-weight="bold" fill="#000" >0</text>
<line x1="295.6" y1="436.4" x2="297.0" y2="436.4" stroke="#222" stroke-width="1.0" />
<text x="297.4" y="448.3" font-size="9.9" text-anchor="middle" textLength="5.2" lengthAdjust="spacingAndGlyphs" font-weight="bold" fill="#000" >0</text>
<line x1="297.3" y1="436.2" x2="297.3" y2="437.6" stroke="#222" stroke-width="1.0" />
<text x="324.2" y="448.3" font-size="9.9" text-anchor="middle" textLength="5.2" lengthAdjust="spacingAndGlyphs" font-weight="bold" fill="#000" >5</text>
<line x1="323.8" y1="436.2" x2="323.8" y2="437.6" stroke="#222" stroke-width="1.0" />
<text x="350.2" y="448.3" font-size="9.9" text-anchor="middle" textLength="10.3" lengthAdjust="spacingAndGlyphs" font-weight="bold" fill="#000" >10</text>
<line x1="350.3" y1="436.2" x2="350.3" y2="437.6" stroke="#222" stroke-width="1.0" />
<text x="376.9" y="448.3" font-size="9.9" text-anchor="middle" textLength="10.3" lengthAdjust="spacingAndGlyphs" font-weight="bold" fill="#000" >15</text>
<line x1="376.8" y1="436.2" x2="376.8" y2="437.6" stroke="#222" stroke-width="1.0" />
<text x="403.3" y="448.3" font-size="9.9" text-anchor="middle" textLength="10.3" lengthAdjust="spacingAndGlyphs" font-weight="bold" fill="#000" >20</text>
<line x1="403.3" y1="436.2" x2="403.3" y2="437.6" stroke="#222" stroke-width="1.0" />
<text x="429.4" y="448.3" font-size="9.9" text-anchor="middle" textLength="10.3" lengthAdjust="spacingAndGlyphs" font-weight="bold" fill="#000" >25</text>
<line x1="429.8" y1="436.2" x2="429.8" y2="437.6" stroke="#222" stroke-width="1.0" />
<text x="456.5" y="448.3" font-size="9.9" text-anchor="middle" textLength="10.3" lengthAdjust="spacingAndGlyphs" font-weight="bold" fill="#000" >30</text>
<line x1="456.3" y1="436.2" x2="456.3" y2="437.6" stroke="#222" stroke-width="1.0" />
<text x="483.7" y="448.3" font-size="9.9" text-anchor="middle" textLength="10.3" lengthAdjust="spacingAndGlyphs" font-weight="bold" fill="#000" >35</text>
<line x1="482.8" y1="436.2" x2="482.8" y2="437.6" stroke="#222" stroke-width="1.0" />
<text x="509.6" y="448.3" font-size="9.9" text-anchor="middle" textLength="10.3" lengthAdjust="spacingAndGlyphs" font-weight="bold" fill="#000" >40</text>
<line x1="509.3" y1="436.2" x2="509.3" y2="437.6" stroke="#222" stroke-width="1.0" />
<text x="361.2" y="460.7" font-size="8.9" textLength="82.6" lengthAdjust="spacing" font-weight="bold" fill="#000" >days of treatment</text>
<line x1="303.0" y1="383.7" x2="306.4" y2="383.7" stroke="#222" stroke-width="1.3" />
<line x1="314.6" y1="383.7" x2="318.0" y2="383.7" stroke="#222" stroke-width="1.3" />
<path d="M309.0,382.2L312.0,385.2M312.0,382.2L309.0,385.2" stroke="#333" stroke-width="1.0"/>
<text x="322.2" y="386.2" font-size="11.4" textLength="59.2" lengthAdjust="spacing" font-weight="bold" fill="#000" >control, po</text>
<line x1="303.0" y1="397.6" x2="318.0" y2="397.6" stroke="#111" stroke-width="1.3" />
<circle cx="310.5" cy="397.6" r="1.9" fill="#000"/>
<text x="322.2" y="400.1" font-size="11.4" textLength="54.8" lengthAdjust="spacing" font-weight="bold" fill="#000" >control, iv</text>
<line x1="303.0" y1="411.6" x2="318.0" y2="411.6" stroke="#111" stroke-width="1.3" />
<polygon points="310.5,409.0 313.1,413.7 307.9,413.7" fill="#000"/>
<text x="322.2" y="414.1" font-size="11.4" textLength="76.0" lengthAdjust="spacing" font-weight="bold" fill="#000" >vinblastine, iv</text>
<line x1="303.0" y1="425.5" x2="318.0" y2="425.5" stroke="#111" stroke-width="1.3" />
<rect x="308.5" y="423.5" width="4.0" height="4.0" fill="#000"/>
<text x="322.2" y="428.0" font-size="11.4" textLength="56.0" lengthAdjust="spacing" font-weight="bold" fill="#000" >EM011, po</text>
<line x1="297.0" y1="329.9" x2="297.0" y2="336.9" stroke="#555" stroke-width="1.0"  stroke-dasharray="1.2,0.9"/>
<line x1="296.0" y1="329.9" x2="298.0" y2="329.9" stroke="#555" stroke-width="0.8" />
<line x1="296.0" y1="336.9" x2="298.0" y2="336.9" stroke="#555" stroke-width="0.8" />
<line x1="302.7" y1="329.9" x2="302.7" y2="336.9" stroke="#555" stroke-width="1.0"  stroke-dasharray="1.2,0.9"/>
<line x1="301.7" y1="329.9" x2="303.7" y2="329.9" stroke="#555" stroke-width="0.8" />
<line x1="301.7" y1="336.9" x2="303.7" y2="336.9" stroke="#555" stroke-width="0.8" />
<line x1="340.1" y1="322.5" x2="340.1" y2="331.5" stroke="#555" stroke-width="1.0"  stroke-dasharray="1.2,0.9"/>
<line x1="339.1" y1="322.5" x2="341.1" y2="322.5" stroke="#555" stroke-width="0.8" />
<line x1="339.1" y1="331.5" x2="341.1" y2="331.5" stroke="#555" stroke-width="0.8" />
<line x1="361.9" y1="316.2" x2="361.9" y2="325.2" stroke="#555" stroke-width="1.0"  stroke-dasharray="1.2,0.9"/>
<line x1="360.9" y1="316.2" x2="362.9" y2="316.2" stroke="#555" stroke-width="0.8" />
<line x1="360.9" y1="325.2" x2="362.9" y2="325.2" stroke="#555" stroke-width="0.8" />
<line x1="372.3" y1="310.9" x2="372.3" y2="319.9" stroke="#555" stroke-width="1.0"  stroke-dasharray="1.2,0.9"/>
<line x1="371.3" y1="310.9" x2="373.3" y2="310.9" stroke="#555" stroke-width="0.8" />
<line x1="371.3" y1="319.9" x2="373.3" y2="319.9" stroke="#555" stroke-width="0.8" />
<line x1="383.7" y1="308.5" x2="383.7" y2="317.5" stroke="#555" stroke-width="1.0"  stroke-dasharray="1.2,0.9"/>
<line x1="382.7" y1="308.5" x2="384.7" y2="308.5" stroke="#555" stroke-width="0.8" />
<line x1="382.7" y1="317.5" x2="384.7" y2="317.5" stroke="#555" stroke-width="0.8" />
<line x1="394.3" y1="306.2" x2="394.3" y2="315.2" stroke="#555" stroke-width="1.0"  stroke-dasharray="1.2,0.9"/>
<line x1="393.3" y1="306.2" x2="395.3" y2="306.2" stroke="#555" stroke-width="0.8" />
<line x1="393.3" y1="315.2" x2="395.3" y2="315.2" stroke="#555" stroke-width="0.8" />
<line x1="404.9" y1="301.9" x2="404.9" y2="310.9" stroke="#555" stroke-width="1.0"  stroke-dasharray="1.2,0.9"/>
<line x1="403.9" y1="301.9" x2="405.9" y2="301.9" stroke="#555" stroke-width="0.8" />
<line x1="403.9" y1="310.9" x2="405.9" y2="310.9" stroke="#555" stroke-width="0.8" />
<line x1="415.5" y1="299.8" x2="415.5" y2="308.8" stroke="#555" stroke-width="1.0"  stroke-dasharray="1.2,0.9"/>
<line x1="414.5" y1="299.8" x2="416.5" y2="299.8" stroke="#555" stroke-width="0.8" />
<line x1="414.5" y1="308.8" x2="416.5" y2="308.8" stroke="#555" stroke-width="0.8" />
<line x1="426.6" y1="298.0" x2="426.6" y2="307.0" stroke="#555" stroke-width="1.0"  stroke-dasharray="1.2,0.9"/>
<line x1="425.6" y1="298.0" x2="427.6" y2="298.0" stroke="#555" stroke-width="0.8" />
<line x1="425.6" y1="307.0" x2="427.6" y2="307.0" stroke="#555" stroke-width="0.8" />
<line x1="437.4" y1="296.8" x2="437.4" y2="305.8" stroke="#555" stroke-width="1.0"  stroke-dasharray="1.2,0.9"/>
<line x1="436.4" y1="296.8" x2="438.4" y2="296.8" stroke="#555" stroke-width="0.8" />
<line x1="436.4" y1="305.8" x2="438.4" y2="305.8" stroke="#555" stroke-width="0.8" />
<line x1="448.2" y1="291.1" x2="448.2" y2="300.1" stroke="#555" stroke-width="1.0"  stroke-dasharray="1.2,0.9"/>
<line x1="447.2" y1="291.1" x2="449.2" y2="291.1" stroke="#555" stroke-width="0.8" />
<line x1="447.2" y1="300.1" x2="449.2" y2="300.1" stroke="#555" stroke-width="0.8" />
<line x1="459.2" y1="291.0" x2="459.2" y2="300.0" stroke="#555" stroke-width="1.0"  stroke-dasharray="1.2,0.9"/>
<line x1="458.2" y1="291.0" x2="460.2" y2="291.0" stroke="#555" stroke-width="0.8" />
<line x1="458.2" y1="300.0" x2="460.2" y2="300.0" stroke="#555" stroke-width="0.8" />
<line x1="470.0" y1="288.8" x2="470.0" y2="297.8" stroke="#555" stroke-width="1.0"  stroke-dasharray="1.2,0.9"/>
<line x1="469.0" y1="288.8" x2="471.0" y2="288.8" stroke="#555" stroke-width="0.8" />
<line x1="469.0" y1="297.8" x2="471.0" y2="297.8" stroke="#555" stroke-width="0.8" />
<line x1="297.0" y1="329.9" x2="297.0" y2="336.9" stroke="#333" stroke-width="1.0"  stroke-dasharray="1.2,0.9"/>
<line x1="296.0" y1="329.9" x2="298.0" y2="329.9" stroke="#333" stroke-width="0.8" />
<line x1="296.0" y1="336.9" x2="298.0" y2="336.9" stroke="#333" stroke-width="0.8" />
<line x1="302.7" y1="329.9" x2="302.7" y2="336.9" stroke="#333" stroke-width="1.0"  stroke-dasharray="1.2,0.9"/>
<line x1="301.7" y1="329.9" x2="303.7" y2="329.9" stroke="#333" stroke-width="0.8" />
<line x1="301.7" y1="336.9" x2="303.7" y2="336.9" stroke="#333" stroke-width="0.8" />
<line x1="340.1" y1="320.4" x2="340.1" y2="329.4" stroke="#333" stroke-width="1.0"  stroke-dasharray="1.2,0.9"/>
<line x1="339.1" y1="320.4" x2="341.1" y2="320.4" stroke="#333" stroke-width="0.8" />
<line x1="339.1" y1="329.4" x2="341.1" y2="329.4" stroke="#333" stroke-width="0.8" />
<line x1="361.9" y1="314.1" x2="361.9" y2="323.1" stroke="#333" stroke-width="1.0"  stroke-dasharray="1.2,0.9"/>
<line x1="360.9" y1="314.1" x2="362.9" y2="314.1" stroke="#333" stroke-width="0.8" />
<line x1="360.9" y1="323.1" x2="362.9" y2="323.1" stroke="#333" stroke-width="0.8" />
<line x1="372.3" y1="310.9" x2="372.3" y2="319.9" stroke="#333" stroke-width="1.0"  stroke-dasharray="1.2,0.9"/>
<line x1="371.3" y1="310.9" x2="373.3" y2="310.9" stroke="#333" stroke-width="0.8" />
<line x1="371.3" y1="319.9" x2="373.3" y2="319.9" stroke="#333" stroke-width="0.8" />
<line x1="383.7" y1="309.8" x2="383.7" y2="318.8" stroke="#333" stroke-width="1.0"  stroke-dasharray="1.2,0.9"/>
<line x1="382.7" y1="309.8" x2="384.7" y2="309.8" stroke="#333" stroke-width="0.8" />
<line x1="382.7" y1="318.8" x2="384.7" y2="318.8" stroke="#333" stroke-width="0.8" />
<line x1="394.3" y1="307.7" x2="394.3" y2="316.7" stroke="#333" stroke-width="1.0"  stroke-dasharray="1.2,0.9"/>
<line x1="393.3" y1="307.7" x2="395.3" y2="307.7" stroke="#333" stroke-width="0.8" />
<line x1="393.3" y1="316.7" x2="395.3" y2="316.7" stroke="#333" stroke-width="0.8" />
<line x1="404.9" y1="307.2" x2="404.9" y2="316.2" stroke="#333" stroke-width="1.0"  stroke-dasharray="1.2,0.9"/>
<line x1="403.9" y1="307.2" x2="405.9" y2="307.2" stroke="#333" stroke-width="0.8" />
<line x1="403.9" y1="316.2" x2="405.9" y2="316.2" stroke="#333" stroke-width="0.8" />
<line x1="415.5" y1="304.7" x2="415.5" y2="313.7" stroke="#333" stroke-width="1.0"  stroke-dasharray="1.2,0.9"/>
<line x1="414.5" y1="304.7" x2="416.5" y2="304.7" stroke="#333" stroke-width="0.8" />
<line x1="414.5" y1="313.7" x2="416.5" y2="313.7" stroke="#333" stroke-width="0.8" />
<line x1="426.6" y1="304.4" x2="426.6" y2="313.4" stroke="#333" stroke-width="1.0"  stroke-dasharray="1.2,0.9"/>
<line x1="425.6" y1="304.4" x2="427.6" y2="304.4" stroke="#333" stroke-width="0.8" />
<line x1="425.6" y1="313.4" x2="427.6" y2="313.4" stroke="#333" stroke-width="0.8" />
<line x1="437.4" y1="302.0" x2="437.4" y2="311.0" stroke="#333" stroke-width="1.0"  stroke-dasharray="1.2,0.9"/>
<line x1="436.4" y1="302.0" x2="438.4" y2="302.0" stroke="#333" stroke-width="0.8" />
<line x1="436.4" y1="311.0" x2="438.4" y2="311.0" stroke="#333" stroke-width="0.8" />
<line x1="448.2" y1="298.5" x2="448.2" y2="307.5" stroke="#333" stroke-width="1.0"  stroke-dasharray="1.2,0.9"/>
<line x1="447.2" y1="298.5" x2="449.2" y2="298.5" stroke="#333" stroke-width="0.8" />
<line x1="447.2" y1="307.5" x2="449.2" y2="307.5" stroke="#333" stroke-width="0.8" />
<line x1="459.2" y1="302.0" x2="459.2" y2="311.0" stroke="#333" stroke-width="1.0"  stroke-dasharray="1.2,0.9"/>
<line x1="458.2" y1="302.0" x2="460.2" y2="302.0" stroke="#333" stroke-width="0.8" />
<line x1="458.2" y1="311.0" x2="460.2" y2="311.0" stroke="#333" stroke-width="0.8" />
<line x1="470.0" y1="295.5" x2="470.0" y2="304.5" stroke="#333" stroke-width="1.0"  stroke-dasharray="1.2,0.9"/>
<line x1="469.0" y1="295.5" x2="471.0" y2="295.5" stroke="#333" stroke-width="0.8" />
<line x1="469.0" y1="304.5" x2="471.0" y2="304.5" stroke="#333" stroke-width="0.8" />
<line x1="480.5" y1="293.0" x2="480.5" y2="302.0" stroke="#333" stroke-width="1.0"  stroke-dasharray="1.2,0.9"/>
<line x1="479.5" y1="293.0" x2="481.5" y2="293.0" stroke="#333" stroke-width="0.8" />
<line x1="479.5" y1="302.0" x2="481.5" y2="302.0" stroke="#333" stroke-width="0.8" />
<line x1="297.0" y1="318.2" x2="297.0" y2="325.2" stroke="#333" stroke-width="1.0"  stroke-dasharray="1.2,0.9"/>
<line x1="296.0" y1="318.2" x2="298.0" y2="318.2" stroke="#333" stroke-width="0.8" />
<line x1="296.0" y1="325.2" x2="298.0" y2="325.2" stroke="#333" stroke-width="0.8" />
<line x1="302.7" y1="318.2" x2="302.7" y2="325.2" stroke="#333" stroke-width="1.0"  stroke-dasharray="1.2,0.9"/>
<line x1="301.7" y1="318.2" x2="303.7" y2="318.2" stroke="#333" stroke-width="0.8" />
<line x1="301.7" y1="325.2" x2="303.7" y2="325.2" stroke="#333" stroke-width="0.8" />
<line x1="340.1" y1="311.9" x2="340.1" y2="320.9" stroke="#333" stroke-width="1.0"  stroke-dasharray="1.2,0.9"/>
<line x1="339.1" y1="311.9" x2="341.1" y2="311.9" stroke="#333" stroke-width="0.8" />
<line x1="339.1" y1="320.9" x2="341.1" y2="320.9" stroke="#333" stroke-width="0.8" />
<line x1="361.9" y1="311.9" x2="361.9" y2="320.9" stroke="#333" stroke-width="1.0"  stroke-dasharray="1.2,0.9"/>
<line x1="360.9" y1="311.9" x2="362.9" y2="311.9" stroke="#333" stroke-width="0.8" />
<line x1="360.9" y1="320.9" x2="362.9" y2="320.9" stroke="#333" stroke-width="0.8" />
<line x1="372.3" y1="310.9" x2="372.3" y2="319.9" stroke="#333" stroke-width="1.0"  stroke-dasharray="1.2,0.9"/>
<line x1="371.3" y1="310.9" x2="373.3" y2="310.9" stroke="#333" stroke-width="0.8" />
<line x1="371.3" y1="319.9" x2="373.3" y2="319.9" stroke="#333" stroke-width="0.8" />
<line x1="383.7" y1="311.9" x2="383.7" y2="320.9" stroke="#333" stroke-width="1.0"  stroke-dasharray="1.2,0.9"/>
<line x1="382.7" y1="311.9" x2="384.7" y2="311.9" stroke="#333" stroke-width="0.8" />
<line x1="382.7" y1="320.9" x2="384.7" y2="320.9" stroke="#333" stroke-width="0.8" />
<line x1="394.3" y1="309.8" x2="394.3" y2="318.8" stroke="#333" stroke-width="1.0"  stroke-dasharray="1.2,0.9"/>
<line x1="393.3" y1="309.8" x2="395.3" y2="309.8" stroke="#333" stroke-width="0.8" />
<line x1="393.3" y1="318.8" x2="395.3" y2="318.8" stroke="#333" stroke-width="0.8" />
<line x1="404.9" y1="302.5" x2="404.9" y2="311.5" stroke="#333" stroke-width="1.0"  stroke-dasharray="1.2,0.9"/>
<line x1="403.9" y1="302.5" x2="405.9" y2="302.5" stroke="#333" stroke-width="0.8" />
<line x1="403.9" y1="311.5" x2="405.9" y2="311.5" stroke="#333" stroke-width="0.8" />
<line x1="415.5" y1="300.9" x2="415.5" y2="309.9" stroke="#333" stroke-width="1.0"  stroke-dasharray="1.2,0.9"/>
<line x1="414.5" y1="300.9" x2="416.5" y2="300.9" stroke="#333" stroke-width="0.8" />
<line x1="414.5" y1="309.9" x2="416.5" y2="309.9" stroke="#333" stroke-width="0.8" />
<line x1="426.6" y1="298.8" x2="426.6" y2="307.8" stroke="#333" stroke-width="1.0"  stroke-dasharray="1.2,0.9"/>
<line x1="425.6" y1="298.8" x2="427.6" y2="298.8" stroke="#333" stroke-width="0.8" />
<line x1="425.6" y1="307.8" x2="427.6" y2="307.8" stroke="#333" stroke-width="0.8" />
<line x1="437.4" y1="298.3" x2="437.4" y2="307.3" stroke="#333" stroke-width="1.0"  stroke-dasharray="1.2,0.9"/>
<line x1="436.4" y1="298.3" x2="438.4" y2="298.3" stroke="#333" stroke-width="0.8" />
<line x1="436.4" y1="307.3" x2="438.4" y2="307.3" stroke="#333" stroke-width="0.8" />
<line x1="448.2" y1="296.3" x2="448.2" y2="305.3" stroke="#333" stroke-width="1.0"  stroke-dasharray="1.2,0.9"/>
<line x1="447.2" y1="296.3" x2="449.2" y2="296.3" stroke="#333" stroke-width="0.8" />
<line x1="447.2" y1="305.3" x2="449.2" y2="305.3" stroke="#333" stroke-width="0.8" />
<line x1="459.2" y1="296.7" x2="459.2" y2="305.7" stroke="#333" stroke-width="1.0"  stroke-dasharray="1.2,0.9"/>
<line x1="458.2" y1="296.7" x2="460.2" y2="296.7" stroke="#333" stroke-width="0.8" />
<line x1="458.2" y1="305.7" x2="460.2" y2="305.7" stroke="#333" stroke-width="0.8" />
<line x1="470.0" y1="294.7" x2="470.0" y2="303.7" stroke="#333" stroke-width="1.0"  stroke-dasharray="1.2,0.9"/>
<line x1="469.0" y1="294.7" x2="471.0" y2="294.7" stroke="#333" stroke-width="0.8" />
<line x1="469.0" y1="303.7" x2="471.0" y2="303.7" stroke="#333" stroke-width="0.8" />
<line x1="480.5" y1="291.7" x2="480.5" y2="300.7" stroke="#333" stroke-width="1.0"  stroke-dasharray="1.2,0.9"/>
<line x1="479.5" y1="291.7" x2="481.5" y2="291.7" stroke="#333" stroke-width="0.8" />
<line x1="479.5" y1="300.7" x2="481.5" y2="300.7" stroke="#333" stroke-width="0.8" />
<line x1="297.0" y1="314.0" x2="297.0" y2="321.0" stroke="#333" stroke-width="1.0"  stroke-dasharray="1.2,0.9"/>
<line x1="296.0" y1="314.0" x2="298.0" y2="314.0" stroke="#333" stroke-width="0.8" />
<line x1="296.0" y1="321.0" x2="298.0" y2="321.0" stroke="#333" stroke-width="0.8" />
<line x1="302.7" y1="314.0" x2="302.7" y2="321.0" stroke="#333" stroke-width="1.0"  stroke-dasharray="1.2,0.9"/>
<line x1="301.7" y1="314.0" x2="303.7" y2="314.0" stroke="#333" stroke-width="0.8" />
<line x1="301.7" y1="321.0" x2="303.7" y2="321.0" stroke="#333" stroke-width="0.8" />
<line x1="340.1" y1="307.7" x2="340.1" y2="316.7" stroke="#333" stroke-width="1.0"  stroke-dasharray="1.2,0.9"/>
<line x1="339.1" y1="307.7" x2="341.1" y2="307.7" stroke="#333" stroke-width="0.8" />
<line x1="339.1" y1="316.7" x2="341.1" y2="316.7" stroke="#333" stroke-width="0.8" />
<line x1="361.9" y1="309.5" x2="361.9" y2="318.5" stroke="#333" stroke-width="1.0"  stroke-dasharray="1.2,0.9"/>
<line x1="360.9" y1="309.5" x2="362.9" y2="309.5" stroke="#333" stroke-width="0.8" />
<line x1="360.9" y1="318.5" x2="362.9" y2="318.5" stroke="#333" stroke-width="0.8" />
<line x1="372.3" y1="310.7" x2="372.3" y2="319.7" stroke="#333" stroke-width="1.0"  stroke-dasharray="1.2,0.9"/>
<line x1="371.3" y1="310.7" x2="373.3" y2="310.7" stroke="#333" stroke-width="0.8" />
<line x1="371.3" y1="319.7" x2="373.3" y2="319.7" stroke="#333" stroke-width="0.8" />
<line x1="383.7" y1="318.9" x2="383.7" y2="327.9" stroke="#333" stroke-width="1.0"  stroke-dasharray="1.2,0.9"/>
<line x1="382.7" y1="318.9" x2="384.7" y2="318.9" stroke="#333" stroke-width="0.8" />
<line x1="382.7" y1="327.9" x2="384.7" y2="327.9" stroke="#333" stroke-width="0.8" />
<line x1="394.3" y1="318.9" x2="394.3" y2="327.9" stroke="#333" stroke-width="1.0"  stroke-dasharray="1.2,0.9"/>
<line x1="393.3" y1="318.9" x2="395.3" y2="318.9" stroke="#333" stroke-width="0.8" />
<line x1="393.3" y1="327.9" x2="395.3" y2="327.9" stroke="#333" stroke-width="0.8" />
<line x1="404.9" y1="323.7" x2="404.9" y2="332.7" stroke="#333" stroke-width="1.0"  stroke-dasharray="1.2,0.9"/>
<line x1="403.9" y1="323.7" x2="405.9" y2="323.7" stroke="#333" stroke-width="0.8" />
<line x1="403.9" y1="332.7" x2="405.9" y2="332.7" stroke="#333" stroke-width="0.8" />
<line x1="415.5" y1="334.7" x2="415.5" y2="343.7" stroke="#333" stroke-width="1.0"  stroke-dasharray="1.2,0.9"/>
<line x1="414.5" y1="334.7" x2="416.5" y2="334.7" stroke="#333" stroke-width="0.8" />
<line x1="414.5" y1="343.7" x2="416.5" y2="343.7" stroke="#333" stroke-width="0.8" />
<line x1="426.6" y1="339.6" x2="426.6" y2="348.6" stroke="#333" stroke-width="1.0"  stroke-dasharray="1.2,0.9"/>
<line x1="425.6" y1="339.6" x2="427.6" y2="339.6" stroke="#333" stroke-width="0.8" />
<line x1="425.6" y1="348.6" x2="427.6" y2="348.6" stroke="#333" stroke-width="0.8" />
<line x1="437.4" y1="336.8" x2="437.4" y2="345.8" stroke="#333" stroke-width="1.0"  stroke-dasharray="1.2,0.9"/>
<line x1="436.4" y1="336.8" x2="438.4" y2="336.8" stroke="#333" stroke-width="0.8" />
<line x1="436.4" y1="345.8" x2="438.4" y2="345.8" stroke="#333" stroke-width="0.8" />
<line x1="448.2" y1="345.0" x2="448.2" y2="354.0" stroke="#333" stroke-width="1.0"  stroke-dasharray="1.2,0.9"/>
<line x1="447.2" y1="345.0" x2="449.2" y2="345.0" stroke="#333" stroke-width="0.8" />
<line x1="447.2" y1="354.0" x2="449.2" y2="354.0" stroke="#333" stroke-width="0.8" />
<line x1="459.2" y1="347.5" x2="459.2" y2="356.5" stroke="#333" stroke-width="1.0"  stroke-dasharray="1.2,0.9"/>
<line x1="458.2" y1="347.5" x2="460.2" y2="347.5" stroke="#333" stroke-width="0.8" />
<line x1="458.2" y1="356.5" x2="460.2" y2="356.5" stroke="#333" stroke-width="0.8" />
<line x1="470.0" y1="347.5" x2="470.0" y2="356.5" stroke="#333" stroke-width="1.0"  stroke-dasharray="1.2,0.9"/>
<line x1="469.0" y1="347.5" x2="471.0" y2="347.5" stroke="#333" stroke-width="0.8" />
<line x1="469.0" y1="356.5" x2="471.0" y2="356.5" stroke="#333" stroke-width="0.8" />
<line x1="480.5" y1="350.6" x2="480.5" y2="359.6" stroke="#333" stroke-width="1.0"  stroke-dasharray="1.2,0.9"/>
<line x1="479.5" y1="350.6" x2="481.5" y2="350.6" stroke="#333" stroke-width="0.8" />
<line x1="479.5" y1="359.6" x2="481.5" y2="359.6" stroke="#333" stroke-width="0.8" />
<path d="M297.0,333.4C297.9,333.4 295.5,334.5 302.7,333.4C309.9,332.3 330.2,329.1 340.1,327.0C350.0,324.9 356.5,322.6 361.9,320.7C367.3,318.8 368.7,316.7 372.3,315.4C375.9,314.1 380.0,313.8 383.7,313.0C387.4,312.2 390.8,311.8 394.3,310.7C397.8,309.6 401.4,307.5 404.9,306.4C408.4,305.3 411.9,304.9 415.5,304.3C419.1,303.7 423.0,303.0 426.6,302.5C430.2,302.0 433.8,302.4 437.4,301.3C441.0,300.2 444.6,296.6 448.2,295.6C451.8,294.6 455.6,295.9 459.2,295.5C462.8,295.1 468.2,293.7 470.0,293.3" fill="none" stroke="#111" stroke-width="1.05"/>
<path d="M297.0,333.4C297.9,333.4 295.5,334.8 302.7,333.4C309.9,332.0 330.2,327.4 340.1,324.9C350.0,322.4 356.5,320.2 361.9,318.6C367.3,317.0 368.7,316.1 372.3,315.4C375.9,314.7 380.0,314.8 383.7,314.3C387.4,313.8 390.8,312.6 394.3,312.2C397.8,311.8 401.4,312.2 404.9,311.7C408.4,311.2 411.9,309.7 415.5,309.2C419.1,308.7 423.0,309.3 426.6,308.9C430.2,308.4 433.8,307.5 437.4,306.5C441.0,305.5 444.6,303.0 448.2,303.0C451.8,303.0 455.6,307.0 459.2,306.5C462.8,306.0 466.4,301.5 470.0,300.0C473.6,298.5 478.8,297.9 480.5,297.5" fill="none" stroke="#111" stroke-width="1.05"/>
<path d="M297.0,321.7C297.9,321.7 295.5,322.6 302.7,321.7C309.9,320.8 330.2,317.3 340.1,316.4C350.0,315.5 356.5,316.6 361.9,316.4C367.3,316.2 368.7,315.4 372.3,315.4C375.9,315.4 380.0,316.6 383.7,316.4C387.4,316.2 390.8,315.9 394.3,314.3C397.8,312.7 401.4,308.5 404.9,307.0C408.4,305.5 411.9,306.0 415.5,305.4C419.1,304.8 423.0,303.7 426.6,303.3C430.2,302.9 433.8,303.2 437.4,302.8C441.0,302.4 444.6,301.1 448.2,300.8C451.8,300.5 455.6,301.5 459.2,301.2C462.8,300.9 466.4,300.0 470.0,299.2C473.6,298.4 478.8,296.7 480.5,296.2" fill="none" stroke="#111" stroke-width="1.05"/>
<path d="M297.0,317.5C297.9,317.5 295.5,318.4 302.7,317.5C309.9,316.6 330.2,312.8 340.1,312.2C350.0,311.6 356.5,313.5 361.9,314.0C367.3,314.5 368.7,313.6 372.3,315.2C375.9,316.8 380.0,322.0 383.7,323.4C387.4,324.8 390.8,322.6 394.3,323.4C397.8,324.2 401.4,325.6 404.9,328.2C408.4,330.8 411.9,336.5 415.5,339.2C419.1,341.9 423.0,343.8 426.6,344.1C430.2,344.5 433.8,340.4 437.4,341.3C441.0,342.2 444.6,347.7 448.2,349.5C451.8,351.3 455.6,351.6 459.2,352.0C462.8,352.4 466.4,351.5 470.0,352.0C473.6,352.5 478.8,354.6 480.5,355.1" fill="none" stroke="#111" stroke-width="1.05"/>
<circle cx="297.0" cy="333.4" r="1.9" fill="#000"/>
<circle cx="302.7" cy="333.4" r="1.9" fill="#000"/>
<circle cx="340.1" cy="324.9" r="1.9" fill="#000"/>
<circle cx="361.9" cy="318.6" r="1.9" fill="#000"/>
<circle cx="372.3" cy="315.4" r="1.9" fill="#000"/>
<circle cx="383.7" cy="314.3" r="1.9" fill="#000"/>
<circle cx="394.3" cy="312.2" r="1.9" fill="#000"/>
<circle cx="404.9" cy="311.7" r="1.9" fill="#000"/>
<circle cx="415.5" cy="309.2" r="1.9" fill="#000"/>
<circle cx="426.6" cy="308.9" r="1.9" fill="#000"/>
<circle cx="437.4" cy="306.5" r="1.9" fill="#000"/>
<circle cx="448.2" cy="303.0" r="1.9" fill="#000"/>
<circle cx="459.2" cy="306.5" r="1.9" fill="#000"/>
<circle cx="470.0" cy="300.0" r="1.9" fill="#000"/>
<circle cx="480.5" cy="297.5" r="1.9" fill="#000"/>
<rect x="295.2" y="319.9" width="3.6" height="3.6" fill="#000"/>
<rect x="300.9" y="319.9" width="3.6" height="3.6" fill="#000"/>
<rect x="338.3" y="314.6" width="3.6" height="3.6" fill="#000"/>
<rect x="360.1" y="314.6" width="3.6" height="3.6" fill="#000"/>
<rect x="370.5" y="313.6" width="3.6" height="3.6" fill="#000"/>
<rect x="381.9" y="314.6" width="3.6" height="3.6" fill="#000"/>
<rect x="392.5" y="312.5" width="3.6" height="3.6" fill="#000"/>
<rect x="403.1" y="305.2" width="3.6" height="3.6" fill="#000"/>
<rect x="413.7" y="303.6" width="3.6" height="3.6" fill="#000"/>
<rect x="424.8" y="301.5" width="3.6" height="3.6" fill="#000"/>
<rect x="435.6" y="301.0" width="3.6" height="3.6" fill="#000"/>
<rect x="446.4" y="299.0" width="3.6" height="3.6" fill="#000"/>
<rect x="457.4" y="299.4" width="3.6" height="3.6" fill="#000"/>
<rect x="468.2" y="297.4" width="3.6" height="3.6" fill="#000"/>
<rect x="478.7" y="294.4" width="3.6" height="3.6" fill="#000"/>
<polygon points="297.0,315.4 299.1,319.2 294.9,319.2" fill="#000"/>
<polygon points="302.7,315.4 304.8,319.2 300.6,319.2" fill="#000"/>
<polygon points="340.1,310.1 342.2,313.9 338.0,313.9" fill="#000"/>
<polygon points="361.9,311.9 364.0,315.7 359.8,315.7" fill="#000"/>
<polygon points="372.3,313.1 374.4,316.9 370.2,316.9" fill="#000"/>
<polygon points="383.7,321.3 385.8,325.1 381.6,325.1" fill="#000"/>
<polygon points="394.3,321.3 396.4,325.1 392.2,325.1" fill="#000"/>
<polygon points="404.9,326.1 407.0,329.9 402.8,329.9" fill="#000"/>
<polygon points="415.5,337.1 417.6,340.9 413.4,340.9" fill="#000"/>
<polygon points="426.6,342.0 428.7,345.8 424.5,345.8" fill="#000"/>
<polygon points="437.4,339.2 439.5,343.0 435.3,343.0" fill="#000"/>
<polygon points="448.2,347.4 450.3,351.2 446.1,351.2" fill="#000"/>
<polygon points="459.2,349.9 461.3,353.7 457.1,353.7" fill="#000"/>
<polygon points="470.0,349.9 472.1,353.7 467.9,353.7" fill="#000"/>
<polygon points="480.5,353.0 482.6,356.8 478.4,356.8" fill="#000"/>
<path d="M295.4,331.8L298.6,335.0M298.6,331.8L295.4,335.0" stroke="#444" stroke-width="0.9"/>
<path d="M301.1,331.8L304.3,335.0M304.3,331.8L301.1,335.0" stroke="#444" stroke-width="0.9"/>
<path d="M338.5,325.4L341.7,328.6M341.7,325.4L338.5,328.6" stroke="#444" stroke-width="0.9"/>
<path d="M360.3,319.1L363.5,322.3M363.5,319.1L360.3,322.3" stroke="#444" stroke-width="0.9"/>
<path d="M370.7,313.8L373.9,317.0M373.9,313.8L370.7,317.0" stroke="#444" stroke-width="0.9"/>
<path d="M382.1,311.4L385.3,314.6M385.3,311.4L382.1,314.6" stroke="#444" stroke-width="0.9"/>
<path d="M392.7,309.1L395.9,312.3M395.9,309.1L392.7,312.3" stroke="#444" stroke-width="0.9"/>
<path d="M403.3,304.8L406.5,308.0M406.5,304.8L403.3,308.0" stroke="#444" stroke-width="0.9"/>
<path d="M413.9,302.7L417.1,305.9M417.1,302.7L413.9,305.9" stroke="#444" stroke-width="0.9"/>
<path d="M425.0,300.9L428.2,304.1M428.2,300.9L425.0,304.1" stroke="#444" stroke-width="0.9"/>
<path d="M435.8,299.7L439.0,302.9M439.0,299.7L435.8,302.9" stroke="#444" stroke-width="0.9"/>
<path d="M446.6,294.0L449.8,297.2M449.8,294.0L446.6,297.2" stroke="#444" stroke-width="0.9"/>
<path d="M457.6,293.9L460.8,297.1M460.8,293.9L457.6,297.1" stroke="#444" stroke-width="0.9"/>
<path d="M468.4,291.7L471.6,294.9M471.6,291.7L468.4,294.9" stroke="#444" stroke-width="0.9"/>
<text x="-0.6" y="489.0" font-size="25.5" font-weight="bold" fill="#000" >E</text>
<line x1="47.1" y1="497.0" x2="47.1" y2="636.6" stroke="#222" stroke-width="1.3" />
<line x1="46.5" y1="636.0" x2="263.0" y2="636.0" stroke="#222" stroke-width="1.3" />
<text x="42.3" y="507.5" font-size="9.9" text-anchor="end" textLength="15.3" lengthAdjust="spacingAndGlyphs" font-weight="bold" fill="#000" >100</text>
<line x1="45.7" y1="503.6" x2="47.1" y2="503.6" stroke="#222" stroke-width="1.0" />
<text x="42.3" y="534.2" font-size="9.9" text-anchor="end" textLength="10.2" lengthAdjust="spacingAndGlyphs" font-weight="bold" fill="#000" >80</text>
<line x1="45.7" y1="530.1" x2="47.1" y2="530.1" stroke="#222" stroke-width="1.0" />
<text x="42.3" y="560.4" font-size="9.9" text-anchor="end" textLength="10.2" lengthAdjust="spacingAndGlyphs" font-weight="bold" fill="#000" >60</text>
<line x1="45.7" y1="556.6" x2="47.1" y2="556.6" stroke="#222" stroke-width="1.0" />
<text x="42.3" y="586.6" font-size="9.9" text-anchor="end" textLength="10.2" lengthAdjust="spacingAndGlyphs" font-weight="bold" fill="#000" >40</text>
<line x1="45.7" y1="583.0" x2="47.1" y2="583.0" stroke="#222" stroke-width="1.0" />
<text x="42.3" y="613.4" font-size="9.9" text-anchor="end" textLength="10.2" lengthAdjust="spacingAndGlyphs" font-weight="bold" fill="#000" >20</text>
<line x1="45.7" y1="609.5" x2="47.1" y2="609.5" stroke="#222" stroke-width="1.0" />
<text x="42.3" y="639.6" font-size="9.9" text-anchor="end" textLength="5.1" lengthAdjust="spacingAndGlyphs" font-weight="bold" fill="#000" >0</text>
<line x1="45.7" y1="636.0" x2="47.1" y2="636.0" stroke="#222" stroke-width="1.0" />
<text x="48.1" y="647.3" font-size="9.9" text-anchor="middle" textLength="5.1" lengthAdjust="spacingAndGlyphs" font-weight="bold" fill="#000" >0</text>
<line x1="48.0" y1="636.0" x2="48.0" y2="637.4" stroke="#222" stroke-width="1.0" />
<text x="78.7" y="647.3" font-size="9.9" text-anchor="middle" textLength="10.2" lengthAdjust="spacingAndGlyphs" font-weight="bold" fill="#000" >20</text>
<line x1="78.6" y1="636.0" x2="78.6" y2="637.4" stroke="#222" stroke-width="1.0" />
<text x="107.9" y="647.3" font-size="9.9" text-anchor="middle" textLength="10.2" lengthAdjust="spacingAndGlyphs" font-weight="bold" fill="#000" >40</text>
<line x1="109.3" y1="636.0" x2="109.3" y2="637.4" stroke="#222" stroke-width="1.0" />
<text x="139.8" y="647.3" font-size="9.9" text-anchor="middle" textLength="10.2" lengthAdjust="spacingAndGlyphs" font-weight="bold" fill="#000" >60</text>
<line x1="139.9" y1="636.0" x2="139.9" y2="637.4" stroke="#222" stroke-width="1.0" />
<text x="170.2" y="647.3" font-size="9.9" text-anchor="middle" textLength="10.2" lengthAdjust="spacingAndGlyphs" font-weight="bold" fill="#000" >80</text>
<line x1="170.6" y1="636.0" x2="170.6" y2="637.4" stroke="#222" stroke-width="1.0" />
<text x="201.3" y="647.3" font-size="9.9" text-anchor="middle" textLength="15.3" lengthAdjust="spacingAndGlyphs" font-weight="bold" fill="#000" >100</text>
<line x1="201.2" y1="636.0" x2="201.2" y2="637.4" stroke="#222" stroke-width="1.0" />
<text x="231.6" y="647.3" font-size="9.9" text-anchor="middle" textLength="15.3" lengthAdjust="spacingAndGlyphs" font-weight="bold" fill="#000" >120</text>
<line x1="231.8" y1="636.0" x2="231.8" y2="637.4" stroke="#222" stroke-width="1.0" />
<text x="261.4" y="647.3" font-size="9.9" text-anchor="middle" textLength="15.3" lengthAdjust="spacingAndGlyphs" font-weight="bold" fill="#000" >140</text>
<line x1="262.5" y1="636.0" x2="262.5" y2="637.4" stroke="#222" stroke-width="1.0" />
<text x="103.5" y="661.6" font-size="8.9" textLength="105.3" lengthAdjust="spacing" font-weight="bold" fill="#000" >days after innoculation</text>
<text transform="translate(25.2,605.1) rotate(-90)" font-size="12" font-weight="bold" textLength="63.3" lengthAdjust="spacingAndGlyphs">% survival</text>
<line x1="171.5" y1="586.3" x2="174.9" y2="586.3" stroke="#222" stroke-width="1.3" />
<line x1="181.6" y1="586.3" x2="185.0" y2="586.3" stroke="#222" stroke-width="1.3" />
<path d="M176.8,584.8L179.8,587.8M179.8,584.8L176.8,587.8" stroke="#333" stroke-width="1.0"/>
<text x="190.4" y="588.8" font-size="11.4" textLength="59.2" lengthAdjust="spacing" font-weight="bold" fill="#000" >control, po</text>
<line x1="171.5" y1="599.9" x2="185.0" y2="599.9" stroke="#111" stroke-width="1.3" />
<circle cx="178.2" cy="599.9" r="1.9" fill="#000"/>
<text x="190.4" y="602.4" font-size="11.4" textLength="54.8" lengthAdjust="spacing" font-weight="bold" fill="#000" >control, iv</text>
<line x1="171.5" y1="613.5" x2="185.0" y2="613.5" stroke="#111" stroke-width="1.3" />
<polygon points="178.2,610.9 180.8,615.6 175.7,615.6" fill="#000"/>
<text x="190.4" y="616.0" font-size="11.4" textLength="76.0" lengthAdjust="spacing" font-weight="bold" fill="#000" >vinblastine, iv</text>
<line x1="171.5" y1="627.1" x2="185.0" y2="627.1" stroke="#111" stroke-width="1.3" />
<rect x="176.2" y="625.1" width="4.0" height="4.0" fill="#000"/>
<text x="190.4" y="629.6" font-size="11.4" textLength="56.0" lengthAdjust="spacing" font-weight="bold" fill="#000" >EM011, po</text>
<polyline points="47.5,503.5 76.5,503.5 76.5,525.5 82.5,525.5 82.5,547.5 86.5,547.5 86.5,569.5 89.5,569.5 89.5,636.5" fill="none" stroke="#8a8a8a" stroke-width="1.0" stroke-linejoin="round" />
<polyline points="47.5,503.5 72.5,503.5 72.5,525.5 82.5,525.5 82.5,547.5 88.5,547.5 88.5,569.5 106.5,569.5 106.5,636.5" fill="none" stroke="#4a4a4a" stroke-width="1.0" stroke-linejoin="round" />
<polyline points="47.5,503.5 82.5,503.5 82.5,525.5 89.5,525.5 89.5,547.5 124.5,547.5 124.5,591.5 142.5,591.5 142.5,613.5 167.5,613.5 167.5,636.5" fill="none" stroke="#4a4a4a" stroke-width="1.0" stroke-linejoin="round" />
<polyline points="47.5,503.5 130.5,503.5 130.5,525.5 173.5,525.5 173.5,547.5 204.5,547.5 204.5,569.5 222.5,569.5" fill="none" stroke="#4a4a4a" stroke-width="1.0" stroke-linejoin="round" />
<rect x="45.3" y="501.6" width="4.0" height="4.0" fill="#000"/>
<circle cx="71.5" cy="525.7" r="1.8" fill="#000"/>
<circle cx="80.5" cy="547.7" r="1.8" fill="#000"/>
<circle cx="88.2" cy="569.8" r="1.8" fill="#000"/>
<circle cx="106.0" cy="636.0" r="1.8" fill="#000"/>
<polygon points="80.8,523.2 83.3,527.6 78.3,527.6" fill="#000"/>
<polygon points="88.8,545.3 91.3,549.7 86.3,549.7" fill="#000"/>
<polygon points="124.2,589.4 126.7,593.8 121.7,593.8" fill="#000"/>
<polygon points="142.6,611.5 145.1,615.9 140.1,615.9" fill="#000"/>
<rect x="128.9" y="524.0" width="3.4" height="3.4" fill="#000"/>
<rect x="171.8" y="546.0" width="3.4" height="3.4" fill="#000"/>
<rect x="202.5" y="568.1" width="3.4" height="3.4" fill="#000"/>
<circle cx="167.6" cy="636.0" r="1.5" fill="#000"/>
<path d="M83.7,568.5L86.3,571.1M86.3,568.5L83.7,571.1" stroke="#444" stroke-width="0.9"/>
<text x="272.3" y="489.0" font-size="25.5" font-weight="bold" fill="#000" >F</text>
<line x1="297.5" y1="496.8" x2="297.5" y2="636.1" stroke="#222" stroke-width="1.3" />
<line x1="296.9" y1="635.5" x2="511.2" y2="635.5" stroke="#222" stroke-width="1.3" />
<text x="293.0" y="510.9" font-size="9.9" text-anchor="end" textLength="15.3" lengthAdjust="spacingAndGlyphs" font-weight="bold" fill="#000" >100</text>
<line x1="296.1" y1="507.2" x2="297.5" y2="507.2" stroke="#222" stroke-width="1.0" />
<text x="293.0" y="536.7" font-size="9.9" text-anchor="end" textLength="10.2" lengthAdjust="spacingAndGlyphs" font-weight="bold" fill="#000" >80</text>
<line x1="296.1" y1="532.9" x2="297.5" y2="532.9" stroke="#222" stroke-width="1.0" />
<text x="293.0" y="562.7" font-size="9.9" text-anchor="end" textLength="10.2" lengthAdjust="spacingAndGlyphs" font-weight="bold" fill="#000" >60</text>
<line x1="296.1" y1="558.5" x2="297.5" y2="558.5" stroke="#222" stroke-width="1.0" />
<text x="293.0" y="588.2" font-size="9.9" text-anchor="end" textLength="10.2" lengthAdjust="spacingAndGlyphs" font-weight="bold" fill="#000" >40</text>
<line x1="296.1" y1="584.2" x2="297.5" y2="584.2" stroke="#222" stroke-width="1.0" />
<text x="293.0" y="614.4" font-size="9.9" text-anchor="end" textLength="10.2" lengthAdjust="spacingAndGlyphs" font-weight="bold" fill="#000" >20</text>
<line x1="296.1" y1="609.8" x2="297.5" y2="609.8" stroke="#222" stroke-width="1.0" />
<text x="293.0" y="639.1" font-size="9.9" text-anchor="end" textLength="5.1" lengthAdjust="spacingAndGlyphs" font-weight="bold" fill="#000" >0</text>
<line x1="296.1" y1="635.5" x2="297.5" y2="635.5" stroke="#222" stroke-width="1.0" />
<text x="298.1" y="645.7" font-size="9.9" text-anchor="middle" textLength="5.1" lengthAdjust="spacingAndGlyphs" font-weight="bold" fill="#000" >0</text>
<line x1="298.0" y1="635.5" x2="298.0" y2="636.9" stroke="#222" stroke-width="1.0" />
<text x="327.5" y="645.7" font-size="9.9" text-anchor="middle" textLength="10.2" lengthAdjust="spacingAndGlyphs" font-weight="bold" fill="#000" >20</text>
<line x1="328.4" y1="635.5" x2="328.4" y2="636.9" stroke="#222" stroke-width="1.0" />
<text x="357.9" y="645.7" font-size="9.9" text-anchor="middle" textLength="10.2" lengthAdjust="spacingAndGlyphs" font-weight="bold" fill="#000" >40</text>
<line x1="358.8" y1="635.5" x2="358.8" y2="636.9" stroke="#222" stroke-width="1.0" />
<text x="388.7" y="645.7" font-size="9.9" text-anchor="middle" textLength="10.2" lengthAdjust="spacingAndGlyphs" font-weight="bold" fill="#000" >60</text>
<line x1="389.3" y1="635.5" x2="389.3" y2="636.9" stroke="#222" stroke-width="1.0" />
<text x="420.2" y="645.7" font-size="9.9" text-anchor="middle" textLength="10.2" lengthAdjust="spacingAndGlyphs" font-weight="bold" fill="#000" >80</text>
<line x1="419.7" y1="635.5" x2="419.7" y2="636.9" stroke="#222" stroke-width="1.0" />
<text x="451.4" y="645.7" font-size="9.9" text-anchor="middle" textLength="15.3" lengthAdjust="spacingAndGlyphs" font-weight="bold" fill="#000" >100</text>
<line x1="450.1" y1="635.5" x2="450.1" y2="636.9" stroke="#222" stroke-width="1.0" />
<text x="481.4" y="645.7" font-size="9.9" text-anchor="middle" textLength="15.3" lengthAdjust="spacingAndGlyphs" font-weight="bold" fill="#000" >120</text>
<line x1="480.5" y1="635.5" x2="480.5" y2="636.9" stroke="#222" stroke-width="1.0" />
<text x="511.4" y="645.7" font-size="9.9" text-anchor="middle" textLength="15.3" lengthAdjust="spacingAndGlyphs" font-weight="bold" fill="#000" >140</text>
<line x1="510.9" y1="635.5" x2="510.9" y2="636.9" stroke="#222" stroke-width="1.0" />
<text x="353.0" y="660.2" font-size="8.9" textLength="105.8" lengthAdjust="spacing" font-weight="bold" fill="#000" >days after innoculation</text>
<line x1="405.8" y1="586.0" x2="409.2" y2="586.0" stroke="#222" stroke-width="1.3" />
<line x1="417.8" y1="586.0" x2="421.2" y2="586.0" stroke="#222" stroke-width="1.3" />
<path d="M412.0,584.5L415.0,587.5M415.0,584.5L412.0,587.5" stroke="#333" stroke-width="1.0"/>
<text x="424.9" y="588.5" font-size="11.4" textLength="59.2" lengthAdjust="spacing" font-weight="bold" fill="#000" >control, po</text>
<line x1="405.8" y1="599.5" x2="421.2" y2="599.5" stroke="#111" stroke-width="1.3" />
<circle cx="413.5" cy="599.5" r="1.9" fill="#000"/>
<text x="424.9" y="602.0" font-size="11.4" textLength="54.8" lengthAdjust="spacing" font-weight="bold" fill="#000" >control, iv</text>
<line x1="405.8" y1="612.9" x2="421.2" y2="612.9" stroke="#111" stroke-width="1.3" />
<polygon points="413.5,610.3 416.1,615.0 410.9,615.0" fill="#000"/>
<text x="424.9" y="615.4" font-size="11.4" textLength="76.0" lengthAdjust="spacing" font-weight="bold" fill="#000" >vinblastine, iv</text>
<line x1="405.8" y1="626.4" x2="421.2" y2="626.4" stroke="#111" stroke-width="1.3" />
<rect x="411.5" y="624.4" width="4.0" height="4.0" fill="#000"/>
<text x="424.9" y="628.9" font-size="11.4" textLength="56.0" lengthAdjust="spacing" font-weight="bold" fill="#000" >EM011, po</text>
<polyline points="297.5,507.5 336.5,507.5 336.5,528.5 345.5,528.5 345.5,549.5 348.5,549.5 348.5,571.5 351.5,571.5 351.5,635.5" fill="none" stroke="#8a8a8a" stroke-width="1.0" stroke-linejoin="round" />
<polyline points="297.5,507.5 332.5,507.5 332.5,528.5 339.5,528.5 339.5,549.5 350.5,549.5 350.5,571.5 358.5,571.5 358.5,635.5" fill="none" stroke="#4a4a4a" stroke-width="1.0" stroke-linejoin="round" />
<polyline points="297.5,507.5 334.5,507.5 334.5,528.5 345.5,528.5 345.5,549.5 352.5,549.5 352.5,571.5 358.5,571.5 358.5,592.5 368.5,592.5 368.5,614.5 386.5,614.5 386.5,635.5" fill="none" stroke="#4a4a4a" stroke-width="1.0" stroke-linejoin="round" />
<polyline points="297.5,507.5 355.5,507.5 355.5,528.5 398.5,528.5 398.5,549.5 434.5,549.5 434.5,571.5 451.5,571.5" fill="none" stroke="#4a4a4a" stroke-width="1.0" stroke-linejoin="round" />
<rect x="295.6" y="505.2" width="4.0" height="4.0" fill="#000"/>
<circle cx="330.9" cy="528.6" r="1.8" fill="#000"/>
<circle cx="338.8" cy="550.0" r="1.8" fill="#000"/>
<circle cx="349.5" cy="571.4" r="1.8" fill="#000"/>
<circle cx="358.7" cy="635.5" r="1.8" fill="#000"/>
<polygon points="333.9,526.1 336.4,530.6 331.4,530.6" fill="#000"/>
<polygon points="344.6,547.5 347.1,551.9 342.1,551.9" fill="#000"/>
<polygon points="352.3,568.9 354.8,573.3 349.8,573.3" fill="#000"/>
<polygon points="358.5,590.3 361.0,594.7 356.0,594.7" fill="#000"/>
<polygon points="368.1,611.6 370.6,616.1 365.6,616.1" fill="#000"/>
<rect x="354.2" y="526.9" width="3.4" height="3.4" fill="#000"/>
<rect x="396.8" y="548.3" width="3.4" height="3.4" fill="#000"/>
<rect x="433.2" y="569.6" width="3.4" height="3.4" fill="#000"/>
<circle cx="386.5" cy="635.5" r="1.3" fill="#000"/>
<path d="M345.0,570.1L347.6,572.6M347.6,570.1L345.0,572.6" stroke="#444" stroke-width="0.9"/>
</g></svg>
</body></html>
